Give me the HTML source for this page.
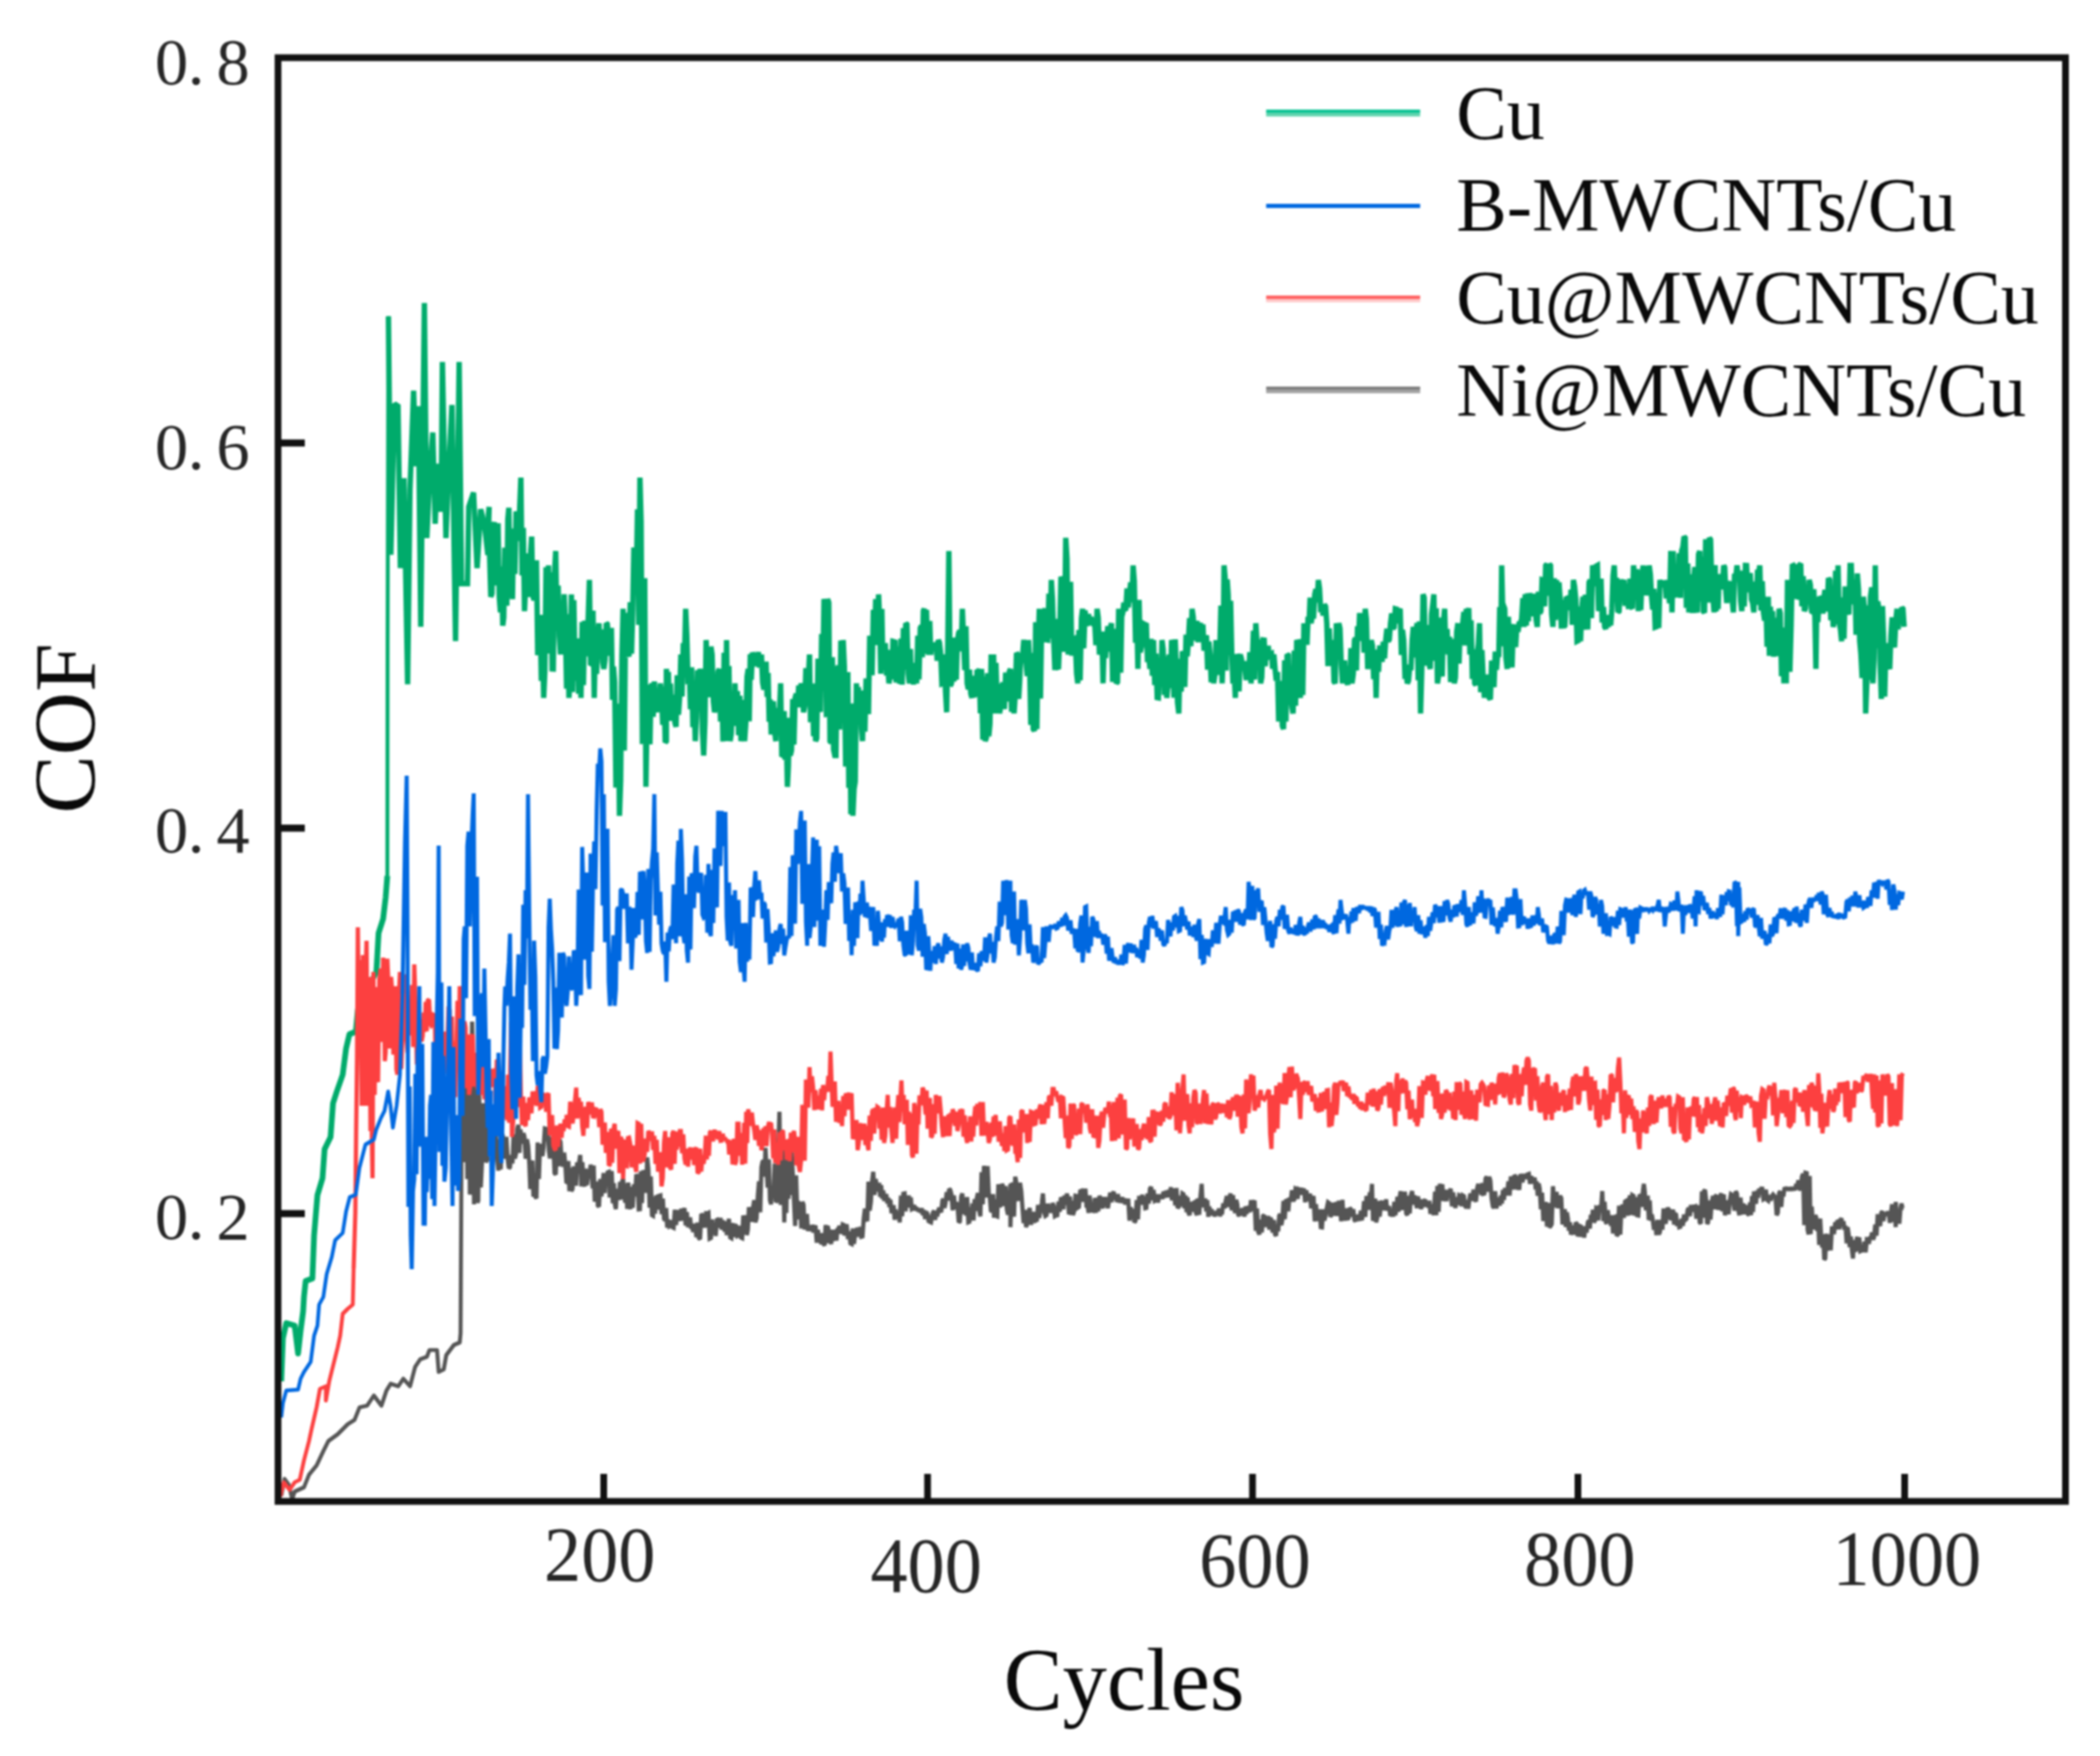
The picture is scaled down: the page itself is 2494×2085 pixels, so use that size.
<!DOCTYPE html>
<html lang="en">
<head>
<meta charset="utf-8">
<title>COF vs Cycles</title>
<style>
html, body { margin: 0; padding: 0; background: #ffffff; }
body { width: 2494px; height: 2085px; overflow: hidden; }
svg { display: block; filter: blur(0.9px); }
</style>
</head>
<body>
<svg width="2494" height="2085" viewBox="0 0 2494 2085">
<rect x="0" y="0" width="2494" height="2085" fill="#ffffff"/>
<defs><clipPath id="pc"><rect x="330" y="68" width="2123" height="1715"/></clipPath></defs>
<g clip-path="url(#pc)">
<polyline points="334.0,1640.0 336.0,1589.0 340.0,1571.0 350.0,1574.0 354.0,1607.0 357.0,1580.0 360.0,1557.0 361.0,1540.0 363.0,1521.0 371.0,1518.0 373.0,1467.0 377.0,1419.0 383.0,1399.0 385.5,1364.5 392.6,1350.0 395.5,1310.0 400.0,1296.0 407.0,1276.0 411.0,1245.0 415.0,1228.0 422.5,1225.0 425.0,1199.0 438.0,1171.0 447.0,1154.0 449.6,1108.0 455.0,1091.0 458.0,1065.6 460.0,1040.0" fill="none" stroke="#00ab6b" stroke-width="6.8" stroke-linejoin="round" stroke-miterlimit="2" stroke-linecap="butt"/>
<polyline points="460.0,1040.0 460.3,767.0 461.3,375.6" fill="none" stroke="#00ab6b" stroke-width="4.6" stroke-linejoin="miter" stroke-miterlimit="2" stroke-linecap="butt"/>
<polyline points="461.3,375.6 464.2,658.8 468.4,479.5 472.7,482.3 475.5,674.5 479.8,567.7 484.1,812.5 486.9,582.0 491.2,463.8 494.0,553.5 496.9,482.3 499.7,744.2 504.0,359.9 506.9,638.9 511.1,550.6 514.0,513.6 516.8,621.8 519.7,550.6 523.9,607.6 525.4,429.7 529.6,638.9 532.5,567.7 536.7,480.9 541.0,761.3 545.3,429.7 548.1,693.0 555.2,693.0 556.7,601.9 562.4,584.8 566.6,674.5 570.9,604.7 575.2,621.8 579.4,658.8 580.9,601.9 580.0,611.4 582.9,708.6 584.3,704.7 585.7,626.3 587.1,620.0 588.5,695.2 590.0,648.5 591.5,621.2 592.9,708.6 594.3,726.9 595.7,672.6 597.1,742.9 598.3,733.2 599.5,650.4 600.7,695.3 601.9,719.1 603.1,616.9 604.3,602.9 605.7,688.9 607.2,683.0 608.6,711.4 610.0,627.6 611.5,681.7 612.9,607.3 614.3,614.3 615.7,642.3 617.2,602.8 618.6,567.1 620.0,683.2 621.5,626.9 622.9,725.7 624.1,699.0 625.3,661.9 626.5,708.8 627.8,657.0 629.0,703.7 630.2,654.6 631.4,637.1 632.8,707.6 634.3,712.7 635.7,688.6 637.1,665.2 638.6,778.0 640.0,751.4 641.4,730.0 642.9,808.4 644.3,758.0 645.7,828.6 647.1,796.8 648.5,673.6 650.0,708.4 651.4,671.4 652.8,776.0 654.3,679.5 655.7,794.3 657.1,794.4 658.6,679.7 660.0,654.3 661.4,742.7 662.9,695.2 664.3,755.5 665.7,777.1 667.1,714.9 668.6,755.5 670.0,705.7 671.4,739.3 672.9,817.6 674.3,729.4 675.7,828.6 677.2,804.1 678.6,705.7 680.0,821.6 681.5,712.6 682.9,791.4 684.3,807.9 685.7,758.0 687.2,823.8 688.6,767.1 690.0,828.6 691.4,738.5 692.9,813.5 694.3,740.0 695.7,739.9 697.1,779.4 698.6,732.4 700.0,688.6 701.4,789.7 702.9,788.7 704.3,725.0 705.7,828.6 707.1,759.9 708.5,800.1 710.0,754.5 711.4,740.0 712.8,781.7 714.2,747.3 715.7,786.2 717.1,794.3 718.5,783.8 720.0,740.0 721.2,740.9 722.5,753.7 723.7,778.6 724.9,758.5 726.1,745.5 727.4,831.0 728.6,791.4 730.0,810.0 731.5,935.1 732.9,845.7 734.3,835.8 735.7,968.6 737.1,927.2 738.6,778.2 740.0,722.9 741.4,891.2 742.9,748.2 744.3,727.7 745.7,777.1 747.1,776.8 748.5,715.0 750.0,776.1 751.4,725.7 752.8,650.1 754.3,674.3 755.7,687.1 757.1,604.7 758.6,741.9 760.0,567.1 761.4,619.2 762.9,883.6 764.3,777.1 765.7,686.4 767.1,934.3 768.3,861.3 769.5,812.9 770.7,870.9 771.9,883.7 773.1,821.8 774.3,811.4 775.7,851.2 777.1,809.2 778.6,839.4 780.0,845.7 781.4,820.0 782.9,837.1 784.3,811.4 785.7,827.8 787.1,860.7 788.6,815.4 790.0,881.5 791.4,880.0 791.4,794.3 792.6,814.1 793.8,797.7 795.0,855.8 796.2,811.7 797.4,849.7 798.6,848.6 800.0,824.9 801.5,858.0 802.9,862.9 804.3,801.9 805.8,848.6 807.2,827.5 808.6,777.1 810.0,826.9 811.5,763.6 812.9,782.7 814.3,722.9 815.7,754.4 817.2,812.4 818.6,794.3 820.0,842.1 821.4,792.3 822.9,863.5 824.3,824.3 825.7,880.0 827.1,851.8 828.5,795.9 830.0,819.3 831.4,794.3 832.8,801.4 834.3,871.0 835.7,897.1 837.2,857.1 838.6,760.0 840.0,792.5 841.4,790.1 842.9,827.9 844.3,767.8 845.7,777.1 847.2,832.7 848.6,845.7 850.0,839.4 851.5,828.5 852.9,797.4 854.3,794.3 855.7,856.6 857.1,794.6 858.6,880.4 860.0,775.1 861.4,880.0 862.9,760.0 864.3,864.4 865.7,790.8 867.1,880.0 868.5,871.2 870.0,823.4 871.5,861.8 872.9,811.4 874.3,857.8 875.7,820.7 877.2,873.0 878.6,826.0 880.0,880.0 881.4,872.2 882.9,831.1 884.3,880.0 885.7,859.4 887.2,803.6 888.6,794.3 889.8,856.4 891.0,776.9 892.2,807.1 893.5,774.8 894.7,778.7 895.9,791.1 897.1,777.1 898.3,778.0 899.5,783.4 900.7,774.2 901.9,792.5 903.1,786.0 904.3,777.1 905.7,810.5 907.2,818.8 908.6,811.4 909.8,785.7 911.0,827.3 912.2,799.1 913.5,856.9 914.7,830.7 915.9,872.2 917.1,845.7 918.5,832.6 920.0,868.8 921.4,880.0 922.8,840.5 924.2,863.7 925.7,846.8 927.1,811.4 928.5,898.3 930.0,897.1 931.3,844.3 932.5,902.3 933.8,869.5 935.1,934.3 936.3,909.7 937.4,852.2 938.6,897.1 940.0,891.1 941.5,830.1 942.9,884.2 944.3,828.6 945.7,823.7 947.1,839.7 948.6,813.9 950.0,839.8 951.4,811.4 952.8,819.0 954.3,845.7 955.7,838.8 957.1,793.4 958.6,837.9 960.0,804.7 961.4,777.1 962.6,857.4 963.8,850.2 965.0,817.4 966.2,874.1 967.4,811.5 968.6,880.0 970.0,876.5 971.5,782.0 972.9,811.4 974.3,845.5 975.8,752.7 977.2,805.1 978.6,711.4 980.0,719.4 981.5,851.6 982.9,711.4 984.3,715.5 985.7,880.0 987.1,881.7 988.5,780.4 990.0,890.1 991.4,897.1 992.8,897.1 994.3,794.3 995.7,790.6 997.1,866.3 998.6,760.5 1000.0,840.2 1001.4,760.0 1002.8,791.3 1004.3,910.2 1005.7,862.9 1006.9,798.1 1008.1,935.4 1009.3,846.2 1010.5,966.6 1011.7,835.2 1012.9,968.6 1014.3,937.0 1015.7,928.2 1017.1,811.4 1018.3,845.8 1019.5,815.8 1020.7,857.0 1021.9,825.6 1023.1,865.3 1024.3,880.0 1025.7,819.8 1027.2,868.8 1028.6,805.5 1030.0,811.4 1031.4,848.0 1032.9,754.9 1034.3,777.1 1035.7,801.8 1037.2,724.0 1038.6,763.4 1040.0,711.4 1041.1,753.3 1042.3,765.6 1043.4,705.7 1044.7,735.0 1046.0,800.0 1047.3,723.1 1048.6,794.3 1050.0,793.4 1051.4,763.6 1052.9,802.2 1054.3,788.5 1055.7,811.4 1056.9,804.1 1058.1,771.7 1059.3,806.6 1060.5,761.5 1061.7,761.8 1062.9,760.0 1064.3,810.5 1065.8,767.9 1067.2,803.6 1068.6,811.4 1070.0,758.4 1071.4,813.0 1072.9,745.8 1074.3,795.1 1075.7,740.0 1077.1,741.4 1078.6,799.3 1080.0,811.4 1081.2,770.6 1082.5,810.6 1083.7,795.3 1084.9,812.8 1086.1,787.1 1087.4,804.4 1088.6,811.4 1090.0,754.9 1091.4,806.6 1092.9,745.8 1094.3,742.9 1095.4,780.4 1096.6,725.2 1097.7,722.9 1099.0,775.8 1100.3,724.0 1101.6,769.3 1102.9,777.1 1104.2,737.4 1105.4,777.5 1106.7,763.3 1108.0,772.8 1109.2,764.1 1110.5,772.1 1111.8,762.7 1113.0,784.7 1114.3,760.0 1115.7,762.8 1117.2,776.3 1118.6,811.9 1120.0,811.4 1121.4,777.2 1122.9,820.9 1124.3,845.7 1125.6,765.3 1126.9,654.3 1128.5,814.5 1130.0,811.4 1131.4,757.1 1132.8,809.4 1134.3,757.6 1135.7,807.2 1137.1,760.0 1138.5,751.6 1140.0,748.9 1141.5,773.2 1142.9,722.9 1144.3,756.9 1145.8,795.6 1147.2,743.5 1148.6,811.4 1150.0,818.4 1151.4,795.1 1152.9,823.5 1154.3,828.6 1155.5,802.9 1156.8,828.0 1158.0,802.3 1159.2,827.1 1160.4,795.3 1161.7,798.2 1162.9,794.3 1164.3,846.8 1165.7,794.4 1167.2,878.2 1168.6,803.2 1170.0,880.0 1171.4,876.1 1172.8,799.3 1174.3,874.3 1175.7,859.6 1177.1,777.1 1178.5,831.6 1180.0,777.1 1181.4,847.1 1182.8,787.0 1184.2,830.8 1185.7,816.0 1187.1,847.1 1188.5,838.6 1190.0,813.4 1191.4,811.4 1192.8,842.0 1194.3,798.5 1195.7,828.6 1197.1,829.4 1198.6,797.8 1200.0,794.3 1201.4,845.1 1202.9,805.9 1204.3,847.1 1205.7,826.1 1207.2,775.3 1208.6,777.1 1209.8,829.8 1211.0,809.2 1212.2,777.7 1213.5,782.1 1214.7,775.0 1215.9,759.8 1217.1,777.1 1218.5,787.8 1220.0,802.8 1221.4,760.0 1222.8,785.9 1224.2,860.6 1225.7,775.2 1227.1,865.7 1228.5,867.9 1230.0,738.8 1231.4,865.7 1232.8,769.7 1234.3,722.9 1235.7,829.5 1237.1,740.7 1238.6,747.3 1240.0,725.6 1241.4,722.9 1242.8,759.8 1244.3,760.0 1245.7,704.9 1247.2,758.2 1248.6,688.6 1250.0,712.1 1251.4,760.0 1252.8,795.5 1254.2,734.8 1255.7,792.5 1257.1,794.3 1258.5,757.3 1260.0,684.9 1261.4,688.6 1262.8,773.7 1264.3,754.8 1265.7,638.6 1267.2,663.2 1268.6,777.1 1270.0,768.0 1271.4,690.7 1272.9,778.5 1274.3,760.0 1275.7,759.0 1277.2,765.4 1278.6,799.8 1280.0,811.4 1281.4,748.1 1282.8,807.9 1284.3,734.2 1285.7,722.9 1287.1,769.9 1288.6,724.7 1290.0,740.0 1291.4,743.0 1292.8,729.1 1294.3,741.2 1295.7,732.7 1297.1,740.0 1298.5,741.1 1300.0,737.4 1301.5,766.1 1302.9,722.9 1304.3,733.4 1305.7,777.1 1307.1,772.2 1308.6,749.9 1310.0,811.4 1311.4,763.3 1312.9,781.3 1314.3,760.0 1315.7,743.5 1317.2,773.5 1318.6,746.0 1320.0,740.0 1321.4,809.8 1322.8,747.0 1324.3,754.2 1325.7,811.4 1327.2,809.7 1328.6,722.9 1329.8,750.4 1331.0,798.7 1332.2,732.1 1333.5,727.7 1334.7,715.5 1335.9,724.0 1337.1,722.9 1338.5,698.8 1340.0,721.1 1341.4,705.7 1342.8,691.5 1344.3,715.0 1345.7,671.4 1347.1,690.1 1348.6,763.1 1350.0,725.7 1351.4,794.3 1352.8,712.3 1354.2,774.5 1355.7,767.8 1357.1,760.0 1358.5,740.7 1360.0,741.5 1361.4,740.0 1362.8,786.2 1364.3,777.8 1365.7,794.3 1367.1,758.7 1368.6,802.4 1370.0,760.0 1371.4,813.5 1372.8,776.2 1374.3,828.3 1375.7,828.6 1377.1,780.7 1378.6,815.2 1380.0,760.0 1381.4,771.2 1382.8,825.1 1384.3,779.7 1385.7,828.6 1387.1,812.4 1388.6,777.2 1390.0,817.1 1391.4,760.0 1392.8,764.4 1394.2,828.5 1395.7,759.2 1397.1,794.3 1398.5,834.5 1400.0,847.1 1401.4,782.2 1402.8,821.1 1404.3,773.3 1405.7,777.1 1407.1,815.7 1408.6,753.6 1410.0,779.3 1411.4,760.0 1412.8,734.0 1414.3,767.5 1415.7,722.9 1417.1,732.6 1418.6,753.5 1420.0,760.0 1421.4,737.2 1422.8,762.6 1424.3,742.6 1425.7,740.0 1427.1,762.1 1428.6,741.3 1430.0,772.5 1431.4,760.0 1432.8,754.4 1434.2,795.1 1435.7,761.9 1437.1,777.1 1438.5,810.1 1440.0,780.7 1441.4,811.4 1442.8,801.2 1444.2,760.2 1445.7,801.4 1447.1,760.0 1448.5,776.5 1450.0,719.1 1451.4,811.4 1452.6,777.4 1453.7,671.4 1454.9,684.9 1456.2,796.2 1457.4,687.9 1458.6,705.7 1460.0,777.9 1461.5,713.3 1462.9,777.1 1464.3,811.6 1465.7,797.8 1467.1,828.6 1468.5,779.5 1470.0,779.3 1471.5,821.0 1472.9,777.1 1474.3,782.0 1475.8,793.2 1477.2,785.3 1478.6,794.3 1480.0,807.3 1481.4,794.8 1482.9,804.6 1484.3,774.4 1485.7,811.4 1487.1,791.9 1488.6,748.9 1490.0,806.9 1491.4,740.0 1492.8,760.6 1494.2,790.3 1495.7,759.4 1497.1,811.4 1498.5,804.3 1500.0,759.8 1501.4,760.0 1502.6,791.0 1503.8,768.4 1505.0,779.5 1506.2,766.7 1507.4,783.3 1508.6,777.1 1510.0,776.3 1511.4,794.0 1512.9,776.9 1514.3,794.3 1515.7,808.3 1517.2,797.9 1518.6,856.7 1520.0,811.4 1521.4,811.8 1522.9,861.7 1524.3,865.7 1525.7,784.0 1527.2,856.7 1528.6,777.1 1530.0,778.0 1531.4,837.1 1532.9,800.5 1534.3,839.4 1535.7,847.1 1537.1,772.5 1538.6,838.0 1540.0,760.0 1541.4,763.5 1542.9,816.6 1544.3,828.6 1545.7,758.9 1547.2,825.2 1548.6,740.0 1549.8,751.8 1551.0,743.2 1552.2,765.6 1553.5,732.5 1554.7,738.7 1555.9,709.6 1557.1,740.0 1558.5,731.1 1560.0,734.3 1561.4,705.7 1562.8,699.5 1564.3,715.3 1565.7,688.6 1567.1,698.7 1568.6,726.8 1570.0,722.9 1571.4,730.8 1572.8,717.8 1574.3,720.0 1575.7,740.0 1577.1,791.0 1578.6,746.2 1580.0,777.1 1581.4,790.0 1582.8,759.8 1584.3,809.2 1585.7,811.4 1587.1,740.1 1588.6,756.8 1590.0,740.0 1591.4,746.1 1592.9,788.8 1594.3,811.4 1595.6,795.0 1596.8,784.1 1598.1,807.9 1599.4,808.7 1600.6,813.1 1601.9,791.2 1603.2,808.7 1604.4,769.5 1605.7,811.4 1607.2,800.2 1608.6,760.0 1609.8,757.7 1611.0,796.2 1612.2,743.5 1613.5,760.9 1614.7,727.9 1615.9,747.3 1617.1,740.0 1618.5,728.8 1620.0,774.8 1621.4,722.9 1622.8,735.2 1624.3,794.3 1625.7,781.5 1627.2,784.1 1628.6,760.0 1630.0,767.2 1631.4,806.3 1632.9,771.4 1634.3,828.6 1635.7,777.6 1637.2,797.5 1638.6,766.4 1640.0,777.1 1641.4,785.9 1642.8,762.0 1644.3,781.8 1645.7,760.0 1647.1,746.6 1648.6,761.5 1650.0,759.3 1651.4,740.0 1652.8,728.3 1654.2,745.9 1655.7,744.7 1657.1,722.9 1658.5,723.3 1660.0,740.1 1661.5,725.4 1662.9,722.9 1664.3,777.7 1665.7,747.9 1667.1,760.0 1668.5,801.2 1670.0,800.3 1671.4,811.4 1672.8,808.1 1674.2,792.5 1675.7,792.6 1677.1,760.0 1678.5,744.4 1680.0,780.6 1681.5,751.6 1682.9,740.0 1684.3,807.7 1685.7,737.9 1687.1,847.1 1688.5,796.6 1690.0,705.7 1691.4,709.5 1692.9,790.2 1694.3,777.1 1695.7,742.2 1697.2,788.2 1698.6,794.3 1700.0,729.9 1701.5,717.8 1702.9,705.7 1704.3,784.7 1705.7,722.4 1707.1,811.4 1708.5,802.4 1710.0,733.2 1711.4,777.1 1712.8,803.3 1714.3,737.2 1715.7,722.9 1717.1,772.7 1718.6,746.8 1720.0,777.1 1721.4,756.1 1722.8,809.9 1724.3,778.0 1725.7,758.7 1727.1,811.4 1728.5,804.6 1730.0,749.9 1731.4,740.0 1732.8,788.0 1734.2,740.9 1735.7,748.6 1737.1,740.0 1738.5,726.6 1740.0,766.5 1741.4,722.9 1742.8,729.7 1744.3,722.1 1745.7,777.1 1747.1,736.6 1748.6,806.3 1750.0,771.2 1751.4,811.4 1752.8,813.3 1754.2,776.3 1755.7,764.9 1757.1,740.0 1758.5,822.0 1760.0,772.0 1761.5,806.1 1762.9,828.6 1764.3,801.5 1765.8,828.3 1767.2,801.0 1768.6,828.6 1770.0,830.3 1771.5,784.4 1772.9,794.3 1774.3,816.0 1775.8,773.7 1777.2,795.3 1778.6,777.1 1780.0,777.1 1781.1,720.9 1782.3,767.4 1783.4,671.4 1784.6,721.1 1785.9,719.8 1787.1,722.9 1788.5,781.3 1790.0,794.3 1791.4,732.3 1792.9,781.9 1794.3,777.1 1795.7,792.5 1797.2,744.1 1798.6,744.3 1800.0,768.4 1801.4,743.3 1802.9,750.2 1804.3,738.5 1805.7,740.0 1807.1,734.9 1808.6,710.1 1810.0,744.3 1811.4,705.7 1812.7,742.9 1814.0,704.7 1815.2,737.6 1816.5,704.4 1817.8,709.7 1819.1,705.2 1820.3,731.9 1821.6,705.9 1822.9,708.6 1824.3,735.9 1825.7,744.3 1827.1,702.5 1828.6,728.0 1830.0,725.7 1831.4,688.6 1832.8,689.1 1834.3,720.0 1835.7,671.4 1837.1,669.7 1838.6,707.3 1840.0,669.6 1841.4,671.4 1842.8,729.4 1844.3,744.3 1845.7,686.5 1847.2,736.1 1848.6,688.6 1850.0,722.8 1851.5,691.5 1852.9,711.4 1854.3,746.3 1855.7,712.5 1857.1,744.3 1858.5,742.9 1860.0,709.0 1861.5,710.4 1862.9,708.6 1864.3,724.4 1865.8,700.2 1867.2,741.9 1868.6,688.6 1870.0,696.1 1871.5,711.9 1872.9,761.4 1874.3,760.7 1875.7,720.4 1877.1,761.4 1878.5,723.6 1880.0,708.6 1881.4,747.7 1882.9,706.0 1884.3,744.3 1885.7,744.3 1887.2,691.6 1888.6,688.6 1890.0,734.0 1891.4,671.4 1892.8,676.2 1894.2,696.0 1895.7,672.2 1897.1,671.4 1898.5,722.7 1900.0,722.9 1901.4,687.2 1902.8,739.1 1904.3,720.8 1905.7,744.3 1907.1,746.6 1908.6,730.4 1910.0,744.3 1911.4,730.9 1912.9,742.4 1914.3,722.9 1915.7,683.6 1917.1,671.4 1918.5,708.1 1920.0,686.2 1921.5,726.8 1922.9,725.7 1924.3,688.0 1925.8,714.1 1927.2,692.2 1928.6,688.6 1930.0,719.4 1931.4,693.1 1932.9,714.8 1934.3,722.9 1935.7,687.1 1937.2,720.6 1938.6,722.5 1940.0,671.4 1941.4,685.8 1942.8,710.3 1944.3,675.9 1945.7,725.7 1947.1,680.3 1948.6,724.3 1950.0,689.0 1951.4,671.4 1952.6,706.8 1953.8,672.2 1955.0,687.9 1956.2,675.7 1957.4,707.2 1958.6,671.4 1960.0,682.1 1961.4,708.6 1962.8,723.7 1964.2,699.2 1965.7,744.8 1967.1,744.3 1968.5,703.3 1970.0,745.7 1971.4,688.6 1972.6,696.0 1973.9,692.9 1975.1,692.5 1976.3,697.0 1977.5,690.4 1978.8,710.6 1980.0,688.6 1981.4,698.6 1982.8,716.2 1984.3,654.2 1985.7,727.1 1987.1,654.3 1988.5,709.6 1990.0,676.1 1991.5,693.1 1992.9,708.6 1994.3,656.9 1995.7,710.0 1997.1,654.3 1998.5,649.7 2000.0,637.2 2001.4,638.6 2002.8,721.8 2004.3,669.0 2005.7,727.1 2007.1,718.5 2008.6,682.1 2010.0,728.0 2011.4,688.6 2012.8,673.3 2014.3,722.5 2015.7,727.1 2017.2,658.4 2018.6,654.3 2020.0,714.2 2021.5,661.2 2022.9,725.7 2024.3,727.4 2025.7,640.2 2027.1,671.4 2028.5,715.4 2030.0,638.6 2031.5,640.8 2032.9,688.6 2034.3,709.3 2035.7,727.1 2036.9,671.1 2038.1,725.9 2039.3,682.8 2040.5,723.1 2041.7,681.7 2042.9,688.6 2044.3,699.4 2045.7,693.3 2047.1,671.4 2048.3,673.7 2049.5,700.5 2050.7,716.1 2051.9,689.6 2053.1,713.7 2054.3,708.6 2055.7,690.1 2057.2,713.0 2058.6,727.1 2060.0,681.4 2061.5,684.9 2062.9,671.4 2064.3,685.4 2065.8,680.2 2067.2,713.8 2068.6,725.7 2070.0,677.5 2071.5,720.2 2072.9,671.4 2074.3,671.5 2075.7,703.1 2077.1,688.6 2078.6,680.5 2080.0,711.9 2081.4,715.6 2082.9,727.1 2084.3,690.7 2085.7,718.2 2087.2,679.8 2088.6,680.0 2090.0,671.4 2091.4,724.8 2092.9,690.0 2094.3,727.1 2095.7,736.9 2097.2,712.2 2098.6,767.8 2100.0,708.6 2101.4,778.6 2102.6,720.3 2103.9,777.6 2105.1,725.5 2106.3,779.8 2107.5,733.7 2108.8,773.7 2110.0,778.6 2111.4,769.2 2112.9,722.9 2114.3,728.1 2115.8,803.0 2117.2,745.0 2118.6,811.4 2120.0,787.1 2121.4,811.4 2122.9,688.6 2124.3,701.4 2125.7,797.7 2127.2,742.0 2128.6,672.1 2130.0,671.4 2131.4,673.7 2132.9,708.2 2134.3,708.6 2135.7,672.4 2137.2,670.8 2138.6,671.4 2140.0,720.0 2141.5,684.0 2142.9,725.7 2144.3,721.8 2145.8,700.3 2147.2,715.7 2148.6,688.6 2150.0,694.3 2151.5,726.0 2152.9,727.1 2154.1,699.7 2155.4,733.6 2156.6,794.3 2157.8,709.3 2159.0,738.7 2160.2,713.3 2161.4,708.6 2162.6,725.0 2163.8,707.2 2165.0,728.5 2166.2,709.4 2167.4,700.4 2168.6,725.7 2170.0,721.0 2171.5,686.5 2172.9,688.6 2174.3,736.5 2175.7,697.8 2177.1,744.3 2178.6,736.2 2180.0,677.7 2181.4,727.9 2182.9,671.4 2184.3,739.5 2185.7,746.8 2187.1,761.4 2188.6,709.4 2190.0,758.4 2191.4,696.4 2192.9,722.9 2194.3,727.1 2195.8,726.8 2197.2,671.4 2198.6,671.4 2200.0,716.9 2201.5,711.8 2202.9,688.6 2204.3,753.6 2205.8,680.9 2207.2,700.0 2208.6,761.4 2210.0,776.5 2211.5,805.2 2212.9,708.6 2214.3,722.9 2215.7,847.1 2217.1,811.4 2218.6,718.8 2220.0,807.4 2221.4,708.6 2222.9,697.3 2224.3,811.4 2225.7,782.9 2227.1,671.4 2228.5,769.7 2230.0,714.1 2231.4,722.9 2232.9,788.5 2234.3,830.0 2235.7,719.7 2237.1,761.4 2238.3,827.1 2239.5,778.2 2240.7,785.0 2241.9,763.7 2243.1,790.7 2244.3,794.3 2245.7,754.1 2247.2,733.1 2248.6,761.4 2250.0,768.6 2251.5,736.9 2252.9,722.9 2254.3,747.4 2255.7,723.3 2257.2,737.4 2258.6,721.4 2260.0,722.9 2261.4,744.3" fill="none" stroke="#00ab6b" stroke-width="6.4" stroke-linejoin="miter" stroke-miterlimit="2" stroke-linecap="butt"/>
<polyline points="334.0,1776.0 338.0,1756.0 343.0,1763.0 347.0,1780.0 350.0,1771.0 361.0,1766.0 367.0,1751.0 376.0,1740.0 384.0,1723.0 390.0,1711.0 401.0,1703.0 413.0,1691.0 421.0,1686.0 427.0,1671.0 436.0,1669.0 444.0,1657.0 453.0,1669.0 459.0,1651.0 464.0,1643.0 473.0,1646.0 479.0,1637.0 487.0,1646.0 493.0,1623.0 499.0,1614.0 507.0,1611.0 510.0,1603.0 519.0,1603.0 521.0,1629.0 527.0,1626.0 530.0,1609.0 539.0,1597.0 546.0,1594.0 547.0,1583.0 548.5,1290.0" fill="none" stroke="#555555" stroke-width="4.7" stroke-linejoin="round" stroke-miterlimit="2" stroke-linecap="butt"/>
<polyline points="548.5,1290.0 551.0,1380.0 552.0,1355.9 553.0,1290.0 554.0,1270.2 555.0,1400.0 556.0,1279.4 557.0,1260.0 558.0,1415.9 559.0,1416.0 560.7,1213.0 561.9,1270.1 563.0,1430.0 564.0,1385.8 565.0,1290.0 566.0,1285.9 567.0,1428.0 568.0,1425.6 569.0,1300.0 570.0,1329.2 571.0,1410.0 572.5,1379.0 574.0,1310.0 575.5,1331.3 577.0,1380.0 578.5,1377.5 580.0,1330.0 581.3,1329.7 582.7,1365.5 584.0,1360.0 585.3,1333.6 586.7,1370.9 588.0,1340.0 589.3,1354.3 590.7,1378.7 592.0,1390.0 593.3,1353.0 594.7,1388.3 596.0,1345.0 597.3,1349.2 598.7,1375.7 600.0,1358.6 601.4,1349.8 602.9,1376.0 604.3,1387.1 605.7,1385.8 607.1,1371.6 608.6,1381.4 610.0,1346.8 611.4,1375.7 612.8,1370.1 614.3,1340.6 615.7,1335.7 616.9,1368.8 618.1,1341.1 619.3,1352.0 620.5,1357.8 621.7,1345.3 622.9,1350.0 624.3,1375.8 625.8,1352.8 627.2,1360.4 628.6,1381.4 629.8,1412.0 631.0,1383.9 632.2,1378.0 633.5,1420.9 634.7,1397.0 635.9,1421.2 637.1,1422.9 638.5,1356.6 640.0,1399.9 641.4,1358.6 642.8,1363.0 644.2,1372.7 645.7,1361.1 647.1,1340.0 648.3,1340.3 649.5,1354.3 650.7,1343.0 651.9,1366.5 653.1,1375.4 654.3,1358.6 655.7,1350.5 657.2,1359.4 658.6,1392.9 660.0,1394.7 661.5,1359.4 662.9,1384.9 664.3,1352.9 665.7,1355.9 667.1,1379.9 668.6,1385.1 670.0,1368.6 671.4,1382.9 672.6,1403.2 673.8,1403.9 675.0,1378.6 676.2,1414.5 677.4,1386.5 678.6,1414.3 680.0,1411.5 681.5,1384.9 682.9,1392.9 684.1,1407.8 685.4,1380.1 686.6,1391.1 687.9,1379.4 689.1,1371.4 690.4,1408.6 691.7,1380.0 693.0,1405.6 694.3,1408.6 695.7,1387.6 697.1,1407.3 698.6,1390.5 700.0,1398.9 701.4,1382.9 702.6,1393.7 703.9,1411.0 705.1,1383.8 706.3,1426.8 707.5,1420.1 708.8,1402.9 710.0,1431.4 711.4,1432.7 712.9,1399.9 714.3,1420.4 715.7,1405.7 716.9,1392.8 718.1,1416.7 719.3,1394.1 720.5,1403.1 721.7,1391.9 722.9,1391.4 724.1,1422.0 725.3,1397.3 726.5,1390.5 727.8,1428.7 729.0,1404.8 730.2,1429.8 731.4,1435.7 732.6,1413.9 733.9,1413.4 735.1,1424.9 736.3,1403.5 737.5,1424.1 738.8,1402.9 740.0,1400.0 741.2,1417.9 742.5,1427.8 743.7,1405.3 744.9,1435.4 746.1,1404.2 747.4,1429.6 748.6,1435.7 750.0,1409.1 751.4,1434.1 752.9,1406.2 754.3,1420.6 755.7,1394.3 757.1,1397.8 758.6,1435.9 760.0,1435.7 761.2,1390.7 762.5,1428.4 763.7,1389.5 764.9,1415.9 766.1,1389.2 767.4,1416.3 768.6,1374.3 770.0,1388.1 771.5,1434.0 772.9,1396.8 774.3,1442.9 775.5,1443.6 776.8,1421.4 778.0,1441.2 779.2,1419.4 780.4,1436.3 781.7,1418.8 782.9,1420.0 784.3,1419.5 785.8,1441.5 787.2,1423.1 788.6,1447.1 789.9,1449.2 791.1,1434.3 792.4,1457.6 793.6,1448.2 794.9,1456.1 796.1,1455.3 797.4,1448.9 798.6,1457.1 800.0,1457.8 801.4,1436.4 802.9,1454.5 804.3,1441.2 805.7,1437.1 806.9,1449.4 808.1,1444.6 809.3,1435.1 810.5,1449.1 811.7,1439.9 812.9,1434.3 814.3,1455.0 815.7,1439.2 817.1,1457.1 818.3,1452.9 819.6,1445.5 820.8,1459.0 822.0,1454.6 823.2,1462.9 824.5,1453.4 825.7,1455.7 827.1,1468.9 828.6,1451.6 830.0,1470.0 831.4,1471.4 832.9,1441.3 834.3,1442.9 835.7,1447.8 837.1,1457.6 838.6,1440.5 840.0,1440.7 841.4,1440.0 842.8,1470.8 844.3,1470.0 845.7,1447.9 847.1,1464.9 848.6,1454.0 850.0,1467.6 851.4,1447.1 852.8,1448.1 854.2,1457.7 855.7,1446.1 857.1,1460.0 858.3,1448.8 859.6,1457.5 860.8,1462.1 862.0,1450.3 863.2,1466.5 864.5,1453.7 865.7,1447.1 867.2,1469.2 868.6,1470.0 870.0,1452.1 871.5,1468.7 872.9,1454.5 874.3,1455.7 875.7,1467.4 877.1,1466.6 878.6,1455.4 880.0,1469.3 881.4,1470.0 882.8,1443.1 884.3,1464.6 885.7,1442.9 886.9,1466.4 888.2,1460.0 889.4,1433.3 890.6,1444.7 891.8,1435.8 893.1,1450.9 894.3,1434.3 895.7,1425.0 897.1,1451.4 898.5,1446.7 900.0,1420.0 901.4,1402.6 902.9,1439.5 904.3,1385.7 905.5,1379.7 906.7,1378.0 907.9,1397.1 909.1,1362.9 910.4,1388.0 911.7,1410.2 913.1,1376.6 914.4,1424.9 915.7,1430.0 917.1,1408.6 918.5,1421.4 920.0,1381.7 921.4,1427.1 922.8,1425.9 924.3,1362.6 925.7,1320.0 927.2,1430.6 928.6,1367.1 930.0,1357.7 931.4,1451.4 932.6,1383.9 933.9,1440.2 935.1,1373.3 936.3,1423.3 937.5,1388.5 938.8,1419.0 940.0,1365.7 941.4,1390.9 942.9,1425.0 944.3,1455.7 945.5,1395.5 946.8,1438.7 948.0,1425.9 949.2,1447.7 950.4,1435.5 951.7,1458.6 952.9,1427.1 954.3,1430.4 955.7,1460.0 957.0,1450.2 958.3,1441.4 959.6,1461.5 960.9,1457.1 962.2,1461.3 963.4,1455.2 964.7,1457.2 966.0,1463.1 967.3,1456.8 968.6,1457.1 970.0,1475.6 971.4,1460.3 972.9,1475.0 974.3,1473.6 975.7,1477.1 976.9,1464.2 978.1,1477.0 979.3,1478.8 980.5,1454.5 981.7,1476.1 982.9,1455.7 984.3,1461.5 985.7,1471.3 987.1,1477.1 988.4,1460.1 989.6,1473.4 990.9,1463.2 992.1,1462.4 993.4,1472.9 994.6,1459.9 995.9,1458.6 997.1,1455.7 998.3,1464.5 999.6,1462.4 1000.8,1453.9 1002.0,1454.4 1003.2,1467.1 1004.5,1455.6 1005.7,1455.7 1007.1,1471.4 1008.5,1462.3 1010.0,1476.4 1011.4,1477.1 1012.8,1458.7 1014.2,1476.9 1015.7,1464.0 1017.1,1460.0 1018.5,1458.8 1020.0,1468.4 1021.5,1456.7 1022.9,1468.6 1024.3,1468.2 1025.8,1446.7 1027.2,1435.1 1028.6,1447.1 1030.0,1449.9 1031.4,1403.1 1032.9,1437.5 1034.3,1427.1 1035.7,1402.5 1037.1,1391.4 1038.5,1418.8 1040.0,1400.0 1041.5,1408.9 1042.9,1414.3 1044.1,1404.4 1045.3,1421.1 1046.5,1407.2 1047.8,1423.3 1049.0,1413.5 1050.2,1426.0 1051.4,1420.0 1052.6,1418.1 1053.9,1429.0 1055.1,1422.4 1056.3,1433.2 1057.5,1424.5 1058.8,1440.5 1060.0,1435.7 1061.2,1431.0 1062.5,1448.3 1063.7,1436.0 1064.9,1446.7 1066.1,1439.7 1067.4,1444.8 1068.6,1451.4 1070.0,1419.7 1071.4,1444.0 1072.9,1417.4 1074.3,1417.1 1075.5,1438.2 1076.8,1421.7 1078.0,1431.7 1079.2,1419.5 1080.4,1433.7 1081.7,1421.6 1082.9,1435.7 1084.2,1435.0 1085.5,1430.7 1086.8,1437.0 1088.2,1434.7 1089.5,1435.5 1090.8,1438.2 1092.1,1435.8 1093.4,1439.6 1094.7,1434.7 1096.1,1442.8 1097.4,1436.8 1098.7,1447.4 1100.0,1438.6 1101.4,1441.2 1102.8,1449.9 1104.3,1450.8 1105.7,1451.4 1106.9,1443.4 1108.2,1439.5 1109.4,1437.8 1110.6,1448.5 1111.8,1438.9 1113.1,1444.4 1114.3,1437.1 1115.5,1434.2 1116.8,1437.9 1118.0,1437.6 1119.2,1425.4 1120.4,1423.8 1121.7,1434.2 1122.9,1428.6 1124.3,1415.5 1125.8,1425.5 1127.2,1411.7 1128.6,1412.9 1130.0,1418.5 1131.4,1437.1 1132.9,1419.4 1134.3,1435.7 1135.7,1427.5 1137.2,1432.4 1138.6,1451.4 1140.0,1450.2 1141.5,1420.8 1142.9,1417.1 1144.3,1441.6 1145.7,1422.3 1147.2,1443.3 1148.6,1421.3 1150.0,1451.4 1151.2,1450.9 1152.5,1433.5 1153.8,1445.2 1155.0,1428.9 1156.2,1449.1 1157.5,1423.8 1158.8,1437.8 1160.0,1422.9 1161.4,1416.6 1162.9,1436.9 1164.3,1444.3 1165.7,1391.9 1167.2,1429.9 1168.6,1384.3 1170.0,1396.9 1171.4,1421.8 1172.9,1384.7 1174.3,1417.1 1175.5,1421.8 1176.8,1437.4 1178.0,1438.5 1179.3,1417.8 1180.5,1445.9 1181.8,1424.2 1183.0,1443.8 1184.3,1444.3 1185.7,1406.1 1187.2,1432.6 1188.6,1430.8 1190.0,1405.7 1191.4,1408.8 1192.8,1432.2 1194.3,1408.4 1195.7,1435.7 1197.1,1442.3 1198.6,1436.6 1200.0,1405.7 1200.0,1457.1 1201.5,1406.6 1202.9,1405.7 1204.3,1444.7 1205.7,1397.1 1207.1,1404.4 1208.6,1422.0 1210.0,1425.7 1211.4,1404.3 1212.9,1414.6 1214.3,1434.3 1215.7,1452.2 1217.2,1436.6 1218.6,1457.1 1220.0,1452.6 1221.5,1440.4 1222.9,1434.3 1224.3,1454.0 1225.7,1449.2 1227.1,1442.9 1228.5,1439.5 1230.0,1449.3 1231.4,1448.6 1232.8,1430.8 1234.3,1446.1 1235.7,1434.3 1237.2,1429.1 1238.6,1417.1 1240.0,1438.8 1241.5,1443.8 1242.9,1442.9 1244.3,1429.2 1245.7,1439.8 1247.2,1432.1 1248.6,1440.0 1250.0,1428.6 1251.4,1431.8 1252.8,1444.1 1254.3,1443.2 1255.7,1442.9 1257.1,1426.6 1258.6,1438.8 1260.0,1421.7 1261.4,1425.7 1262.8,1435.9 1264.2,1419.4 1265.7,1430.4 1267.1,1417.1 1268.3,1423.7 1269.5,1441.8 1270.7,1420.6 1271.9,1442.7 1273.1,1425.9 1274.3,1442.9 1275.7,1438.0 1277.2,1419.7 1278.6,1420.0 1280.0,1433.9 1281.4,1433.0 1282.9,1414.5 1284.3,1413.9 1285.7,1420.0 1286.8,1426.9 1288.0,1419.3 1289.1,1411.4 1290.4,1433.6 1291.6,1431.8 1292.9,1440.0 1294.1,1419.4 1295.3,1436.3 1296.5,1428.6 1297.8,1439.3 1299.0,1437.8 1300.2,1422.5 1301.4,1440.0 1302.8,1422.3 1304.3,1438.2 1305.7,1420.0 1307.1,1422.9 1308.6,1432.2 1310.0,1434.3 1311.4,1421.2 1312.8,1432.0 1314.3,1421.4 1315.7,1434.7 1317.1,1425.7 1318.5,1416.2 1320.0,1427.5 1321.4,1417.1 1322.7,1415.1 1323.9,1424.3 1325.2,1418.4 1326.4,1427.1 1327.7,1417.8 1328.9,1427.7 1330.2,1425.1 1331.4,1425.7 1332.6,1421.5 1333.9,1426.9 1335.1,1423.0 1336.3,1430.1 1337.5,1424.6 1338.8,1425.8 1340.0,1425.7 1341.4,1449.3 1342.8,1433.3 1344.3,1444.7 1345.7,1435.5 1347.1,1451.4 1348.5,1449.7 1350.0,1425.0 1351.5,1447.9 1352.9,1420.0 1354.1,1425.2 1355.3,1430.0 1356.5,1418.4 1357.8,1430.6 1359.0,1420.4 1360.2,1434.6 1361.4,1434.3 1362.8,1417.3 1364.3,1429.1 1365.7,1411.4 1367.1,1409.3 1368.6,1425.1 1370.0,1412.7 1371.4,1425.7 1372.7,1424.9 1374.0,1418.2 1375.3,1427.8 1376.6,1420.1 1377.9,1423.5 1379.2,1418.4 1380.5,1423.7 1381.8,1414.8 1383.1,1422.1 1384.4,1414.1 1385.7,1417.1 1386.9,1421.3 1388.2,1412.8 1389.4,1418.1 1390.6,1409.6 1391.8,1425.2 1393.1,1416.7 1394.3,1411.4 1395.7,1431.2 1397.2,1410.6 1398.6,1434.3 1400.0,1432.8 1401.4,1419.7 1402.9,1432.4 1404.3,1417.1 1405.5,1417.9 1406.8,1434.9 1408.0,1419.4 1409.2,1439.3 1410.4,1421.6 1411.7,1440.7 1412.9,1442.9 1414.3,1426.9 1415.7,1438.7 1417.1,1428.6 1418.5,1427.7 1420.0,1438.8 1421.4,1442.9 1422.8,1422.9 1424.2,1442.4 1425.7,1420.2 1427.1,1405.7 1428.5,1433.3 1430.0,1428.6 1431.2,1422.9 1432.5,1438.4 1433.8,1424.9 1435.0,1444.8 1436.2,1432.6 1437.5,1442.2 1438.8,1435.6 1440.0,1442.9 1441.3,1438.1 1442.5,1444.2 1443.8,1440.2 1445.1,1439.7 1446.3,1442.5 1447.6,1434.9 1448.9,1444.1 1450.1,1440.2 1451.4,1440.0 1452.8,1428.8 1454.3,1434.6 1455.7,1425.7 1457.1,1420.0 1458.6,1433.3 1460.0,1422.0 1461.4,1417.1 1462.8,1437.2 1464.3,1419.1 1465.7,1434.3 1466.9,1440.3 1468.2,1424.6 1469.4,1429.7 1470.6,1442.3 1471.8,1443.5 1473.1,1435.5 1474.3,1442.9 1475.5,1436.7 1476.8,1436.9 1478.0,1444.6 1479.2,1432.6 1480.4,1441.4 1481.7,1432.3 1482.9,1434.3 1484.3,1439.2 1485.7,1425.1 1487.2,1437.8 1488.6,1427.8 1490.0,1425.7 1491.4,1461.3 1492.8,1434.8 1494.3,1462.6 1495.7,1465.7 1497.1,1448.3 1498.6,1463.2 1500.0,1443.9 1501.4,1442.9 1502.6,1457.1 1503.9,1444.9 1505.1,1448.3 1506.3,1443.9 1507.5,1460.1 1508.8,1445.9 1510.0,1448.6 1511.4,1463.5 1512.9,1448.6 1514.3,1465.7 1515.5,1467.2 1516.8,1453.9 1518.0,1462.2 1519.2,1443.4 1520.4,1441.7 1521.7,1454.8 1522.9,1448.6 1524.3,1425.9 1525.8,1447.7 1527.2,1424.4 1528.6,1425.7 1530.0,1438.3 1531.4,1421.9 1532.9,1426.9 1534.3,1413.3 1535.7,1425.7 1537.2,1424.1 1538.6,1411.4 1539.8,1412.1 1541.1,1423.5 1542.3,1412.2 1543.6,1413.0 1544.8,1410.7 1546.1,1418.4 1547.3,1413.5 1548.6,1411.4 1550.0,1427.5 1551.4,1413.4 1552.9,1421.7 1554.3,1425.7 1555.7,1417.3 1557.2,1434.8 1558.6,1424.0 1560.0,1420.0 1561.4,1450.2 1562.9,1429.7 1564.3,1448.6 1565.7,1447.3 1567.2,1435.8 1568.6,1457.1 1570.0,1457.3 1571.4,1435.9 1572.9,1449.3 1574.3,1442.9 1575.7,1434.4 1577.2,1427.6 1578.6,1428.6 1580.0,1444.7 1581.4,1442.2 1582.9,1427.9 1584.3,1442.9 1585.7,1440.2 1587.2,1427.2 1588.6,1443.9 1590.0,1425.7 1591.4,1432.7 1592.8,1450.0 1594.3,1424.7 1595.7,1448.6 1596.9,1438.3 1598.1,1449.4 1599.3,1434.6 1600.5,1448.2 1601.7,1445.8 1602.9,1434.3 1604.3,1435.7 1605.8,1444.6 1607.2,1435.7 1608.6,1448.6 1609.8,1450.2 1611.1,1442.3 1612.3,1449.8 1613.6,1442.1 1614.8,1449.5 1616.1,1437.4 1617.3,1448.6 1618.6,1442.9 1620.0,1426.3 1621.4,1444.9 1622.9,1420.1 1624.3,1425.7 1625.6,1436.4 1626.8,1415.7 1628.1,1421.6 1629.4,1405.7 1630.6,1449.5 1631.8,1445.8 1633.1,1423.1 1634.3,1451.4 1635.7,1445.8 1637.1,1425.8 1638.6,1444.5 1640.0,1430.7 1641.4,1425.7 1642.6,1436.8 1643.8,1426.2 1645.0,1437.2 1646.2,1424.1 1647.4,1437.3 1648.6,1434.3 1649.8,1432.3 1651.0,1443.6 1652.2,1442.2 1653.5,1435.6 1654.7,1444.6 1655.9,1426.8 1657.1,1442.9 1658.4,1436.0 1659.6,1421.0 1660.9,1438.7 1662.1,1423.1 1663.4,1414.3 1664.6,1436.7 1665.9,1421.9 1667.1,1428.6 1668.5,1415.0 1670.0,1440.7 1671.4,1442.9 1672.8,1420.0 1674.2,1440.8 1675.7,1418.8 1677.1,1414.3 1678.5,1430.2 1680.0,1419.3 1681.5,1428.6 1682.9,1434.3 1684.1,1420.4 1685.3,1434.1 1686.5,1424.1 1687.8,1435.7 1689.0,1426.6 1690.2,1433.0 1691.4,1425.7 1692.6,1424.4 1693.9,1432.5 1695.1,1427.5 1696.3,1433.9 1697.5,1425.6 1698.8,1441.3 1700.0,1434.3 1701.4,1430.1 1702.8,1442.9 1704.3,1414.8 1705.7,1442.9 1707.1,1408.2 1708.6,1439.0 1710.0,1405.7 1711.4,1414.4 1712.9,1406.3 1714.3,1425.7 1715.5,1423.2 1716.8,1412.6 1718.0,1426.1 1719.2,1415.4 1720.4,1421.9 1721.7,1414.1 1722.9,1411.4 1724.3,1432.4 1725.8,1415.8 1727.2,1428.3 1728.6,1434.3 1730.0,1421.5 1731.4,1430.7 1732.9,1419.2 1734.3,1420.0 1735.7,1432.1 1737.1,1419.4 1738.6,1420.3 1740.0,1432.0 1741.4,1434.3 1742.6,1425.1 1743.8,1435.3 1745.0,1424.6 1746.2,1417.3 1747.4,1419.3 1748.6,1425.7 1750.0,1412.6 1751.4,1423.7 1752.9,1426.7 1754.3,1410.7 1755.7,1405.7 1756.9,1416.1 1758.1,1406.6 1759.3,1419.0 1760.5,1404.7 1761.7,1417.5 1762.9,1417.1 1764.3,1399.4 1765.8,1397.1 1767.2,1415.0 1768.6,1397.1 1770.0,1402.0 1771.4,1422.5 1772.9,1432.2 1774.3,1434.3 1775.7,1414.5 1777.2,1434.9 1778.6,1422.5 1780.0,1425.7 1781.2,1431.5 1782.5,1419.6 1783.7,1429.1 1784.9,1413.0 1786.1,1424.7 1787.4,1410.4 1788.6,1417.1 1790.0,1417.2 1791.4,1402.8 1792.9,1419.5 1794.3,1396.8 1795.7,1402.9 1797.1,1412.4 1798.6,1395.2 1800.0,1397.1 1800.0,1411.4 1801.4,1409.7 1802.8,1396.5 1804.3,1412.9 1805.7,1394.3 1806.9,1396.8 1808.2,1403.9 1809.4,1394.2 1810.6,1397.5 1811.8,1394.5 1813.1,1400.0 1814.3,1394.3 1815.7,1393.8 1817.1,1405.6 1818.6,1396.5 1820.0,1404.1 1821.4,1402.9 1822.6,1398.2 1823.8,1412.4 1825.0,1402.7 1826.2,1419.8 1827.4,1405.3 1828.6,1411.4 1830.0,1435.9 1831.4,1416.0 1832.9,1449.9 1834.3,1434.3 1835.7,1427.2 1837.2,1456.4 1838.6,1428.4 1840.0,1457.1 1841.4,1456.0 1842.9,1453.4 1844.3,1408.6 1845.7,1423.5 1847.1,1433.4 1848.6,1415.3 1850.0,1434.5 1851.4,1425.7 1852.8,1419.8 1854.2,1422.6 1855.7,1453.9 1857.1,1442.9 1858.3,1435.6 1859.6,1456.9 1860.8,1439.5 1862.0,1446.4 1863.2,1461.3 1864.5,1451.1 1865.7,1465.7 1867.1,1463.0 1868.6,1455.0 1870.0,1466.0 1871.4,1451.4 1872.6,1453.0 1873.8,1468.0 1875.0,1453.1 1876.2,1468.5 1877.4,1454.4 1878.6,1468.6 1880.0,1456.9 1881.4,1469.5 1882.9,1455.9 1884.3,1463.5 1885.7,1451.4 1886.9,1449.2 1888.1,1458.8 1889.3,1442.5 1890.5,1448.4 1891.7,1436.4 1892.9,1451.4 1894.3,1449.0 1895.7,1434.3 1896.9,1435.0 1898.1,1449.1 1899.3,1431.0 1900.5,1439.1 1901.7,1430.6 1902.9,1414.3 1904.3,1449.8 1905.7,1426.8 1907.1,1451.4 1908.3,1452.6 1909.5,1436.9 1910.7,1449.9 1911.9,1443.3 1913.1,1455.6 1914.3,1442.9 1915.7,1464.5 1917.1,1445.6 1918.6,1444.7 1920.0,1467.3 1921.4,1465.7 1922.8,1431.6 1924.3,1465.9 1925.7,1434.3 1927.1,1430.5 1928.6,1446.1 1930.0,1426.6 1931.4,1425.7 1932.8,1439.5 1934.3,1442.9 1935.7,1419.1 1937.2,1442.7 1938.6,1419.1 1940.0,1420.0 1941.4,1443.3 1942.9,1421.3 1944.3,1442.9 1945.7,1443.2 1947.2,1418.3 1948.6,1420.0 1949.8,1432.9 1951.1,1414.7 1952.3,1405.7 1953.4,1415.1 1954.6,1436.8 1955.7,1434.3 1956.9,1419.5 1958.1,1448.7 1959.3,1425.4 1960.5,1449.3 1961.7,1441.9 1962.9,1448.6 1964.3,1460.3 1965.7,1450.7 1967.2,1466.5 1968.6,1448.5 1970.0,1465.7 1971.4,1462.9 1972.8,1448.6 1974.3,1460.0 1975.7,1434.9 1977.1,1448.6 1978.3,1453.1 1979.4,1437.7 1980.6,1434.3 1981.9,1436.2 1983.2,1444.7 1984.4,1448.5 1985.7,1442.9 1986.9,1436.1 1988.2,1454.1 1989.4,1441.5 1990.6,1442.2 1991.8,1455.8 1993.1,1449.0 1994.3,1457.1 1995.7,1456.6 1997.1,1447.0 1998.6,1455.6 2000.0,1441.9 2001.4,1448.6 2002.8,1447.4 2004.3,1436.4 2005.7,1434.3 2007.0,1444.1 2008.2,1430.8 2009.5,1438.8 2010.8,1431.0 2012.0,1433.9 2013.3,1433.0 2014.6,1447.1 2015.8,1434.9 2017.1,1431.4 2018.6,1451.4 2019.9,1453.0 2021.2,1414.7 2022.4,1445.8 2023.7,1414.3 2024.9,1412.7 2026.2,1424.0 2027.4,1453.1 2028.6,1451.4 2030.0,1425.3 2031.4,1448.1 2032.9,1427.8 2034.3,1420.0 2035.7,1435.8 2037.2,1420.5 2038.6,1419.2 2040.0,1434.3 2041.4,1434.5 2042.9,1420.2 2044.3,1417.1 2045.7,1438.4 2047.2,1418.1 2048.6,1442.9 2050.0,1437.5 2051.4,1425.1 2052.9,1441.7 2054.3,1425.7 2055.7,1417.8 2057.1,1418.7 2058.6,1427.1 2060.0,1437.4 2061.4,1414.3 2062.8,1417.2 2064.3,1435.9 2065.7,1442.9 2067.1,1421.9 2068.6,1442.0 2070.0,1430.3 2071.4,1431.4 2072.8,1441.6 2074.2,1431.1 2075.7,1441.3 2077.1,1442.9 2078.3,1427.7 2079.5,1442.8 2080.7,1420.2 2081.9,1439.1 2083.1,1414.7 2084.3,1420.0 2085.5,1429.4 2086.8,1413.7 2088.0,1422.3 2089.2,1411.2 2090.4,1417.5 2091.7,1411.3 2092.9,1411.4 2094.3,1424.0 2095.7,1423.1 2097.2,1412.5 2098.6,1424.6 2100.0,1425.7 2101.4,1418.9 2102.8,1425.6 2104.3,1420.4 2105.7,1418.4 2107.1,1420.0 2108.6,1421.3 2110.0,1442.9 2111.4,1439.8 2112.9,1416.5 2114.3,1414.3 2115.5,1433.0 2116.8,1416.2 2118.0,1420.6 2119.2,1411.6 2120.4,1411.2 2121.7,1411.1 2122.9,1411.4 2124.2,1413.1 2125.5,1409.8 2126.8,1413.8 2128.1,1409.4 2129.4,1413.4 2130.6,1410.4 2131.9,1413.1 2133.2,1405.6 2134.5,1408.9 2135.8,1401.3 2137.1,1411.4 2138.6,1412.7 2140.0,1397.1 2141.4,1393.7 2142.8,1454.6 2144.3,1392.5 2145.7,1392.9 2146.8,1460.3 2148.0,1465.7 2149.2,1396.3 2150.4,1465.4 2151.7,1432.6 2152.9,1451.4 2154.3,1459.5 2155.7,1442.9 2156.9,1445.3 2158.1,1461.5 2159.3,1446.8 2160.5,1478.1 2161.7,1447.0 2162.9,1468.6 2164.1,1481.3 2165.3,1465.6 2166.5,1495.6 2167.7,1494.3 2168.9,1464.8 2170.2,1485.0 2171.4,1468.6 2172.8,1466.6 2174.2,1484.6 2175.7,1456.2 2177.1,1462.9 2178.3,1463.0 2179.6,1451.4 2180.8,1459.8 2182.0,1449.3 2183.2,1450.2 2184.5,1459.6 2185.7,1448.6 2186.9,1446.6 2188.2,1456.4 2189.4,1450.1 2190.6,1460.2 2191.8,1455.4 2193.1,1476.4 2194.3,1457.1 2195.6,1466.4 2196.8,1480.9 2198.1,1468.1 2199.3,1483.5 2200.6,1494.3 2201.9,1472.3 2203.1,1486.4 2204.4,1474.9 2205.7,1468.6 2206.9,1485.6 2208.1,1469.3 2209.3,1485.6 2210.5,1485.1 2211.7,1484.7 2212.9,1485.7 2214.3,1474.3 2215.7,1487.1 2217.1,1471.4 2218.3,1471.7 2219.6,1476.8 2220.8,1468.3 2222.0,1470.6 2223.2,1463.5 2224.5,1471.9 2225.7,1468.6 2227.1,1453.9 2228.6,1467.1 2230.0,1441.6 2231.4,1451.4 2232.9,1455.7 2234.3,1440.0 2235.6,1438.2 2236.8,1449.8 2238.1,1440.5 2239.4,1441.8 2240.6,1442.1 2241.9,1438.7 2243.2,1440.8 2244.4,1451.9 2245.7,1440.0 2247.1,1429.9 2248.6,1450.7 2250.0,1436.3 2251.4,1457.1 2251.4,1427.1 2252.8,1450.9 2254.2,1436.2 2255.7,1453.1 2257.1,1434.3 2258.3,1429.1 2259.4,1434.4 2260.6,1434.3" fill="none" stroke="#555555" stroke-width="5.0" stroke-linejoin="miter" stroke-miterlimit="2" stroke-linecap="butt"/>
<polyline points="333.0,1777.0 337.0,1760.0 344.0,1769.0 350.0,1760.0 356.0,1757.0 361.0,1734.0 367.0,1711.0 370.0,1697.0 376.0,1671.0 380.0,1649.0 387.0,1646.0 387.0,1663.0 391.0,1640.0 396.0,1620.0 401.0,1600.0 404.0,1586.0 407.0,1560.0 413.0,1554.0 419.0,1549.0 420.0,1506.0" fill="none" stroke="#fc4040" stroke-width="4.6" stroke-linejoin="round" stroke-miterlimit="2" stroke-linecap="butt"/>
<polyline points="420.0,1506.0 422.0,1440.0 423.0,1340.0 424.0,1260.0 425.0,1101.0 426.5,1250.0 428.0,1140.0 429.6,1313.0 431.0,1134.0 432.0,1280.8 433.0,1313.0 434.1,1159.6 435.3,1117.0 437.0,1313.0 438.0,1279.3 439.0,1160.0 440.0,1343.1 441.0,1310.0 442.4,1399.0 443.5,1154.0 445.0,1300.0 446.0,1172.0 447.0,1180.0 448.0,1271.2 449.0,1285.0 450.5,1162.6 452.0,1150.0 453.5,1237.3 455.0,1137.0 456.0,1174.5 457.0,1260.0 458.0,1249.5 459.0,1170.0 460.0,1138.3 461.0,1160.0 462.0,1245.0 463.0,1222.0 464.5,1159.9 466.0,1180.0 467.2,1252.1 468.3,1199.9 469.5,1171.0 470.8,1270.1 472.0,1276.0 473.5,1187.5 475.0,1154.0 476.5,1269.1 478.0,1230.0 479.5,1157.0 481.0,1180.0 482.5,1231.3 484.0,1250.0 485.3,1187.9 486.7,1229.5 488.0,1200.0 489.3,1169.6 490.7,1243.3 492.0,1145.0 493.5,1190.8 495.0,1260.0 496.5,1259.1 498.0,1210.0 499.3,1225.9 500.7,1236.4 502.0,1230.0 503.2,1202.4 504.4,1225.2 505.6,1189.6 506.8,1224.4 508.0,1188.0 509.5,1186.8 511.0,1215.0 512.3,1217.6 513.7,1215.7 515.0,1205.0 516.3,1205.6 517.7,1271.5 519.0,1215.0 520.5,1206.9 522.0,1290.0 523.3,1258.0 524.7,1233.3 526.0,1230.0 527.3,1274.8 528.7,1224.7 530.0,1260.0 531.3,1241.6 532.7,1199.2 534.0,1200.0 535.3,1281.4 536.7,1207.1 538.0,1330.0 539.3,1236.7 540.7,1302.7 542.0,1250.0 543.3,1188.4 544.7,1261.2 546.0,1171.0 547.5,1194.4 549.0,1280.0 550.3,1267.5 551.7,1212.8 553.0,1220.0 554.3,1292.2 555.7,1228.4 557.0,1300.0 558.5,1289.0 560.0,1230.0 561.5,1228.9 563.0,1290.0 564.5,1285.7 566.0,1250.0 567.3,1294.0 568.7,1249.9 570.0,1300.0 571.3,1292.1 572.7,1255.1 574.0,1250.0 575.3,1305.1 576.7,1291.2 578.0,1310.0 579.3,1273.8 580.7,1303.2 582.0,1270.0 583.3,1272.0 584.7,1287.3 586.0,1290.0 587.3,1268.6 588.7,1316.6 590.0,1260.0 591.3,1259.3 592.7,1333.9 594.0,1340.0 595.3,1272.5 596.7,1327.0 598.0,1290.0 599.3,1295.3 600.7,1313.1 602.0,1330.0 603.3,1276.1 604.7,1333.1 606.0,1267.0 607.0,1213.8 608.0,1350.0 609.5,1331.0 611.0,1188.0 612.0,1223.2 613.0,1232.0 614.4,1280.7 615.7,1314.3 617.2,1228.0 618.6,1300.0 620.0,1335.9 621.5,1302.1 622.9,1334.4 624.3,1337.1 625.7,1309.6 627.1,1330.1 628.6,1303.1 630.0,1308.6 631.2,1322.0 632.5,1295.9 633.7,1309.0 634.9,1310.9 636.1,1295.7 637.4,1313.0 638.6,1291.4 640.0,1291.1 641.5,1315.2 642.9,1314.3 644.3,1297.5 645.7,1312.4 647.2,1297.9 648.6,1320.2 650.0,1300.0 651.4,1298.4 652.9,1348.1 654.3,1331.4 655.7,1324.0 657.1,1359.8 658.6,1364.3 660.0,1365.7 661.4,1336.4 662.9,1361.9 664.3,1343.5 665.7,1334.3 666.9,1351.0 668.2,1337.2 669.4,1343.1 670.6,1329.2 671.8,1338.8 673.1,1323.8 674.3,1337.1 675.7,1337.7 677.2,1308.2 678.6,1317.1 680.0,1333.9 681.5,1322.3 682.9,1306.5 684.3,1291.4 685.7,1328.2 687.2,1303.5 688.6,1317.1 690.0,1308.2 691.5,1337.6 692.9,1348.6 694.3,1320.3 695.8,1314.4 697.2,1339.5 698.6,1308.6 700.0,1312.7 701.5,1323.2 702.9,1308.9 704.3,1325.7 705.5,1325.9 706.8,1317.2 708.0,1315.4 709.2,1326.4 710.4,1317.1 711.7,1338.4 712.9,1317.1 714.3,1320.1 715.7,1359.2 717.1,1342.9 718.3,1332.9 719.5,1368.9 720.7,1345.5 721.9,1346.9 723.1,1383.8 724.3,1382.9 725.7,1340.1 727.1,1380.7 728.6,1340.5 730.0,1334.3 731.4,1363.9 732.9,1346.6 734.3,1342.9 735.7,1392.9 737.1,1350.0 738.6,1353.4 740.0,1400.0 741.4,1353.0 742.9,1384.3 744.3,1384.7 745.7,1351.4 747.1,1350.9 748.5,1357.7 750.0,1386.0 751.4,1362.9 752.8,1361.0 754.3,1384.9 755.7,1391.4 757.2,1333.6 758.6,1334.3 760.0,1381.7 761.5,1334.3 762.9,1378.4 764.3,1377.1 765.7,1370.5 767.1,1352.0 768.6,1367.7 770.0,1342.9 771.4,1345.7 772.8,1354.4 774.3,1343.4 775.7,1365.3 777.1,1348.6 778.5,1382.0 780.0,1353.4 781.5,1391.2 782.9,1382.9 784.3,1368.2 785.7,1408.6 787.1,1398.8 788.6,1356.5 790.0,1342.9 791.4,1381.0 792.8,1385.7 794.3,1350.3 795.7,1386.2 797.1,1388.6 798.5,1345.8 800.0,1342.9 801.2,1382.0 802.5,1343.6 803.7,1365.0 804.9,1343.6 806.1,1361.5 807.4,1342.9 808.6,1342.9 810.0,1369.3 811.5,1346.9 812.9,1375.5 814.3,1382.9 815.7,1364.0 817.1,1385.2 818.6,1365.5 820.0,1362.9 821.4,1376.7 822.8,1362.6 824.3,1383.4 825.7,1364.6 827.1,1362.9 828.5,1393.1 830.0,1391.4 831.4,1363.9 832.8,1391.1 834.3,1371.8 835.7,1382.0 837.1,1371.4 838.3,1348.5 839.5,1376.6 840.7,1352.3 841.9,1372.3 843.1,1344.6 844.3,1342.9 845.7,1353.1 847.1,1353.1 848.6,1341.3 850.0,1351.1 851.4,1342.9 852.8,1352.9 854.2,1343.1 855.7,1354.6 857.1,1354.3 858.4,1346.1 859.7,1354.0 860.9,1351.1 862.2,1353.2 863.5,1355.3 864.8,1353.2 866.0,1370.8 867.3,1358.4 868.6,1354.3 870.0,1382.6 871.5,1352.2 872.9,1382.9 874.3,1379.0 875.7,1334.3 877.1,1334.3 878.5,1372.4 880.0,1345.4 881.4,1382.9 882.6,1368.6 883.8,1333.0 885.0,1381.6 886.2,1320.1 887.4,1357.2 888.6,1317.1 890.0,1325.4 891.5,1336.7 892.9,1320.9 894.3,1334.3 895.7,1341.4 897.1,1353.4 898.6,1336.3 900.0,1342.9 901.4,1360.5 902.9,1341.8 904.3,1365.7 905.5,1359.2 906.8,1339.3 908.0,1359.8 909.2,1337.1 910.4,1360.9 911.7,1339.8 912.9,1334.3 914.3,1334.5 915.7,1333.3 917.1,1348.6 918.3,1375.4 919.5,1341.0 920.7,1381.0 921.9,1356.4 923.1,1373.7 924.3,1382.9 925.7,1344.3 927.2,1377.8 928.6,1342.9 930.0,1343.8 931.5,1366.1 932.9,1353.2 934.3,1377.1 935.5,1373.4 936.8,1352.5 938.0,1378.9 939.2,1344.8 940.4,1368.3 941.7,1348.0 942.9,1342.9 944.3,1353.3 945.7,1383.6 947.2,1349.9 948.6,1384.3 950.0,1391.4 951.4,1378.4 952.9,1311.7 954.3,1325.7 955.7,1378.3 957.2,1281.9 958.6,1291.4 960.0,1315.1 961.4,1267.1 962.8,1296.8 964.3,1278.0 965.7,1291.4 967.1,1318.0 968.5,1294.5 970.0,1309.9 971.4,1317.1 972.6,1301.3 973.9,1316.9 975.1,1292.7 976.3,1318.4 977.5,1288.3 978.8,1306.4 980.0,1291.4 981.3,1294.4 982.5,1293.0 983.8,1277.5 985.0,1296.4 986.3,1248.6 987.5,1283.1 988.8,1314.2 990.0,1300.0 991.4,1284.2 992.9,1332.0 994.3,1325.7 995.7,1307.2 997.1,1333.4 998.6,1313.4 1000.0,1337.1 1001.4,1301.4 1002.9,1325.4 1004.3,1300.3 1005.7,1300.0 1007.1,1317.5 1008.6,1299.7 1010.0,1300.0 1011.4,1300.3 1012.9,1352.5 1014.3,1348.6 1015.7,1347.4 1017.2,1329.8 1018.6,1365.7 1020.0,1356.2 1021.5,1336.9 1022.9,1334.3 1024.1,1342.5 1025.3,1353.6 1026.5,1334.2 1027.8,1359.7 1029.0,1336.9 1030.2,1359.1 1031.4,1365.7 1032.8,1324.5 1034.2,1354.6 1035.7,1319.7 1037.1,1317.1 1038.3,1345.8 1039.6,1315.1 1040.8,1330.4 1042.0,1314.3 1043.2,1315.1 1044.5,1340.1 1045.7,1317.1 1047.1,1353.3 1048.6,1315.2 1050.0,1357.1 1051.4,1348.7 1052.9,1320.0 1054.3,1300.0 1055.7,1338.9 1057.2,1314.4 1058.6,1341.3 1060.0,1357.1 1061.4,1327.0 1062.8,1315.0 1064.3,1352.2 1065.7,1317.1 1066.9,1300.3 1068.2,1332.5 1069.4,1302.5 1070.6,1282.9 1071.9,1319.5 1073.2,1300.0 1074.4,1334.8 1075.7,1317.1 1076.9,1305.9 1078.2,1359.5 1079.4,1319.9 1080.6,1358.1 1081.8,1321.7 1083.1,1371.5 1084.3,1374.3 1085.7,1309.7 1087.1,1317.1 1088.3,1370.0 1089.6,1318.9 1090.8,1335.1 1092.0,1300.7 1093.2,1311.4 1094.5,1309.2 1095.7,1291.4 1096.9,1294.1 1098.1,1310.4 1099.3,1323.3 1100.5,1294.7 1101.7,1340.2 1102.9,1314.3 1104.3,1303.7 1105.7,1350.4 1107.1,1348.6 1108.5,1311.1 1110.0,1346.1 1111.4,1300.0 1112.8,1311.5 1114.2,1322.0 1115.7,1301.4 1117.1,1317.1 1118.5,1336.6 1120.0,1350.2 1121.5,1325.5 1122.9,1348.6 1124.1,1328.1 1125.3,1349.1 1126.5,1323.2 1127.8,1349.0 1129.0,1321.4 1130.2,1333.5 1131.4,1317.1 1132.8,1320.9 1134.2,1336.7 1135.7,1320.1 1137.1,1342.9 1138.5,1335.7 1140.0,1320.0 1141.5,1320.4 1142.9,1317.1 1144.3,1349.6 1145.8,1324.5 1147.2,1349.5 1148.6,1357.1 1149.8,1332.4 1151.0,1349.3 1152.2,1325.5 1153.5,1355.4 1154.7,1330.5 1155.9,1349.7 1157.1,1325.7 1158.3,1313.6 1159.5,1336.3 1160.7,1310.7 1161.9,1326.2 1163.1,1317.0 1164.3,1308.6 1165.7,1348.7 1167.2,1308.5 1168.6,1342.9 1170.0,1348.0 1171.4,1332.1 1172.9,1341.5 1174.3,1357.1 1175.7,1352.5 1177.2,1332.9 1178.6,1349.9 1180.0,1325.7 1181.2,1342.2 1182.5,1323.8 1183.7,1348.7 1184.9,1333.9 1186.1,1355.6 1187.4,1331.5 1188.6,1348.6 1190.0,1360.8 1191.4,1345.8 1192.9,1366.9 1194.3,1337.1 1195.7,1365.7 1197.1,1364.9 1198.6,1327.2 1200.0,1325.7 1200.0,1325.7 1201.5,1356.0 1202.9,1360.0 1204.3,1335.2 1205.8,1367.2 1207.2,1366.9 1208.6,1380.0 1210.0,1329.2 1211.5,1375.0 1212.9,1320.0 1214.3,1318.2 1215.7,1344.7 1217.2,1323.1 1218.6,1329.2 1220.0,1357.1 1221.4,1322.9 1222.9,1355.9 1224.3,1320.0 1225.7,1320.5 1227.2,1321.0 1228.6,1334.8 1230.0,1334.3 1231.4,1317.2 1232.8,1328.3 1234.3,1316.4 1235.7,1311.4 1237.1,1334.8 1238.6,1312.0 1240.0,1334.3 1241.4,1324.0 1242.8,1308.7 1244.3,1327.9 1245.7,1302.9 1247.1,1301.4 1248.6,1312.9 1250.0,1292.9 1251.4,1292.9 1252.8,1301.2 1254.3,1295.7 1255.7,1302.9 1257.1,1308.2 1258.6,1300.8 1260.0,1327.9 1261.4,1302.9 1262.8,1303.6 1264.3,1328.6 1265.7,1351.3 1267.2,1324.7 1268.6,1362.9 1270.0,1360.5 1271.4,1310.4 1272.9,1352.4 1274.3,1311.4 1275.7,1312.9 1277.2,1346.8 1278.6,1345.7 1280.0,1343.7 1281.4,1316.3 1282.9,1346.7 1284.3,1311.4 1285.7,1310.3 1287.1,1321.4 1288.6,1314.9 1290.0,1333.0 1291.4,1311.4 1292.8,1321.8 1294.3,1339.8 1295.7,1345.7 1297.1,1317.1 1298.6,1350.4 1300.0,1348.5 1301.4,1328.6 1302.8,1325.2 1304.3,1362.9 1305.7,1354.1 1307.2,1326.5 1308.6,1320.0 1310.0,1339.0 1311.4,1324.0 1312.9,1315.3 1314.3,1320.0 1315.7,1320.0 1316.9,1308.0 1318.1,1322.4 1319.3,1321.6 1320.5,1354.9 1321.7,1317.0 1322.9,1308.6 1324.3,1354.3 1325.7,1338.0 1327.2,1303.3 1328.6,1351.7 1330.0,1301.4 1331.4,1299.6 1332.9,1347.0 1334.3,1320.0 1335.7,1305.5 1337.2,1364.8 1338.6,1362.9 1340.0,1327.5 1341.5,1352.9 1342.9,1328.6 1344.3,1336.4 1345.8,1328.0 1347.2,1361.3 1348.6,1342.9 1350.0,1334.7 1351.5,1364.9 1352.9,1362.9 1354.3,1340.6 1355.8,1353.8 1357.2,1340.4 1358.6,1334.3 1360.0,1351.1 1361.4,1336.5 1362.9,1352.7 1364.3,1326.4 1365.7,1354.3 1367.1,1355.7 1368.6,1320.1 1370.0,1320.0 1371.2,1349.6 1372.5,1319.7 1373.7,1330.3 1374.9,1320.3 1376.1,1331.2 1377.4,1335.9 1378.6,1334.3 1380.0,1318.8 1381.5,1331.8 1382.9,1311.4 1384.3,1309.5 1385.8,1326.7 1387.2,1313.8 1388.6,1328.6 1390.0,1325.4 1391.4,1296.8 1392.9,1324.4 1394.3,1302.9 1395.7,1299.5 1397.2,1342.2 1398.6,1285.7 1400.0,1305.8 1401.4,1345.7 1402.8,1325.2 1404.3,1292.5 1405.7,1275.7 1407.2,1330.6 1408.6,1302.9 1410.0,1299.4 1411.5,1335.9 1412.9,1345.7 1414.3,1310.1 1415.8,1338.3 1417.2,1303.9 1418.6,1294.3 1420.0,1297.8 1421.4,1332.5 1422.9,1334.1 1424.3,1310.4 1425.7,1334.3 1427.1,1324.5 1428.6,1305.6 1430.0,1294.3 1431.4,1333.8 1432.9,1298.3 1434.3,1334.3 1435.7,1330.4 1437.2,1312.7 1438.6,1335.1 1440.0,1311.4 1441.5,1310.1 1442.9,1328.6 1444.3,1326.4 1445.7,1310.1 1447.2,1311.4 1448.6,1322.2 1450.0,1311.4 1451.4,1313.0 1452.8,1321.1 1454.3,1314.2 1455.7,1311.4 1457.1,1326.6 1458.6,1306.3 1460.0,1328.6 1461.4,1324.5 1462.9,1309.9 1464.3,1302.9 1465.7,1318.7 1467.1,1303.8 1468.6,1300.3 1470.0,1325.9 1471.4,1302.9 1472.8,1303.7 1474.3,1337.9 1475.7,1345.7 1477.1,1299.5 1478.6,1339.9 1480.0,1281.9 1481.4,1294.3 1482.8,1321.8 1484.3,1307.2 1485.7,1275.7 1487.1,1291.4 1488.6,1277.0 1490.0,1318.6 1491.4,1313.6 1492.8,1300.5 1494.3,1314.9 1495.7,1299.9 1497.1,1294.3 1498.5,1305.1 1500.0,1303.8 1501.5,1305.3 1502.9,1302.9 1504.3,1300.6 1505.7,1296.1 1507.1,1294.3 1508.5,1346.5 1510.0,1364.3 1511.4,1300.0 1512.9,1344.4 1514.3,1334.3 1515.7,1289.1 1517.2,1340.1 1518.6,1293.5 1520.0,1285.7 1521.4,1310.0 1522.8,1293.0 1524.3,1311.0 1525.7,1274.1 1527.1,1311.4 1528.5,1302.0 1530.0,1279.6 1531.4,1267.1 1532.8,1302.8 1534.3,1266.5 1535.7,1294.3 1537.2,1291.0 1538.6,1277.1 1540.0,1276.8 1541.4,1280.6 1542.9,1303.6 1544.3,1328.6 1545.7,1284.7 1547.2,1299.9 1548.6,1285.7 1550.0,1284.5 1551.4,1296.7 1552.9,1283.8 1554.3,1300.0 1555.7,1294.3 1557.1,1289.5 1558.6,1307.9 1560.0,1302.9 1561.4,1299.3 1562.8,1318.9 1564.3,1303.4 1565.7,1318.6 1567.1,1318.4 1568.6,1297.8 1570.0,1319.6 1571.4,1302.9 1572.8,1296.5 1574.2,1316.8 1575.7,1294.6 1577.1,1294.3 1578.5,1338.3 1580.0,1309.0 1581.4,1337.1 1582.8,1323.4 1584.3,1290.2 1585.7,1285.7 1587.0,1323.7 1588.3,1310.6 1589.6,1285.9 1590.9,1288.3 1592.2,1283.8 1593.4,1288.2 1594.7,1283.2 1596.0,1295.4 1597.3,1289.0 1598.6,1285.7 1600.0,1301.6 1601.5,1289.9 1602.9,1302.9 1604.3,1301.0 1605.7,1305.4 1607.2,1298.8 1608.6,1310.6 1610.0,1302.9 1611.4,1304.0 1612.9,1313.4 1614.3,1311.4 1615.5,1316.5 1616.8,1308.0 1618.0,1318.1 1619.2,1310.4 1620.4,1316.3 1621.7,1317.6 1622.9,1318.6 1624.3,1297.4 1625.8,1311.8 1627.2,1301.1 1628.6,1294.3 1630.0,1313.8 1631.4,1292.6 1632.9,1314.1 1634.3,1295.7 1635.7,1318.6 1637.1,1315.8 1638.6,1293.1 1640.0,1311.5 1641.4,1294.3 1642.7,1290.9 1643.9,1301.2 1645.2,1289.1 1646.4,1296.5 1647.7,1297.6 1648.9,1285.1 1650.2,1315.4 1651.4,1285.7 1652.8,1293.9 1654.3,1311.4 1655.7,1318.3 1657.1,1337.1 1658.2,1283.4 1659.4,1274.3 1660.6,1319.4 1661.8,1282.3 1663.1,1298.1 1664.3,1294.3 1665.7,1280.5 1667.2,1298.0 1668.6,1283.4 1670.0,1285.7 1671.4,1317.1 1672.8,1294.9 1674.3,1329.0 1675.7,1318.6 1676.9,1305.7 1678.1,1326.8 1679.3,1316.6 1680.5,1332.4 1681.7,1316.7 1682.9,1337.1 1684.3,1331.0 1685.7,1289.7 1687.1,1302.9 1688.5,1327.3 1690.0,1285.3 1691.4,1285.7 1692.8,1299.7 1694.2,1283.4 1695.7,1277.7 1697.1,1294.3 1698.4,1292.4 1699.6,1284.0 1700.9,1275.7 1702.1,1301.7 1703.3,1276.1 1704.5,1316.9 1705.7,1302.9 1707.1,1283.6 1708.6,1321.3 1710.0,1298.7 1711.4,1328.6 1712.8,1322.8 1714.2,1298.3 1715.7,1321.1 1717.1,1294.3 1718.5,1296.5 1720.0,1317.3 1721.5,1297.5 1722.9,1318.6 1724.3,1305.1 1725.8,1328.3 1727.2,1296.1 1728.6,1330.0 1730.0,1284.8 1731.5,1317.9 1732.9,1285.7 1734.3,1287.2 1735.7,1323.7 1737.2,1296.1 1738.6,1321.7 1740.0,1328.6 1741.5,1284.9 1742.9,1285.7 1744.3,1321.7 1745.8,1329.2 1747.2,1294.6 1748.6,1328.6 1750.0,1321.6 1751.4,1299.9 1752.9,1330.7 1754.3,1293.9 1755.7,1302.9 1757.1,1308.7 1758.6,1287.4 1760.0,1285.7 1761.4,1287.7 1762.8,1290.8 1764.3,1312.7 1765.7,1310.8 1767.1,1311.4 1768.5,1288.7 1770.0,1306.1 1771.4,1285.7 1772.8,1289.9 1774.3,1293.9 1775.7,1311.4 1777.1,1286.7 1778.6,1300.2 1780.0,1279.5 1781.4,1274.3 1782.8,1299.1 1784.3,1273.4 1785.7,1302.9 1787.1,1300.2 1788.6,1274.8 1790.0,1277.1 1791.4,1283.9 1792.9,1305.5 1794.3,1311.4 1795.7,1275.1 1797.2,1303.8 1798.6,1267.1 1800.0,1267.1 1801.4,1265.5 1802.9,1309.1 1804.3,1311.4 1805.7,1275.4 1807.2,1301.6 1808.6,1277.1 1810.0,1267.5 1811.4,1288.0 1812.9,1259.6 1814.3,1255.7 1815.7,1259.4 1817.2,1311.5 1818.6,1318.6 1820.0,1268.9 1821.5,1269.9 1822.9,1268.6 1824.3,1306.7 1825.8,1277.8 1827.2,1311.3 1828.6,1320.0 1830.0,1318.7 1831.5,1289.5 1832.9,1285.7 1834.3,1317.2 1835.7,1330.0 1837.2,1278.8 1838.6,1275.7 1840.0,1323.1 1841.5,1289.3 1842.9,1330.0 1844.3,1296.3 1845.7,1321.0 1847.1,1285.7 1848.5,1289.7 1850.0,1313.1 1851.4,1318.6 1852.8,1297.4 1854.2,1312.7 1855.7,1299.8 1857.1,1294.3 1858.5,1320.4 1860.0,1300.1 1861.4,1318.6 1862.8,1309.2 1864.2,1292.7 1865.7,1317.9 1867.1,1285.7 1868.5,1278.5 1870.0,1301.8 1871.4,1275.7 1872.8,1279.6 1874.3,1311.4 1875.7,1306.2 1877.2,1278.1 1878.6,1283.4 1880.0,1285.7 1881.4,1295.2 1882.9,1269.1 1884.3,1267.1 1885.7,1282.1 1887.2,1305.7 1888.6,1318.6 1890.0,1278.4 1891.4,1312.0 1892.9,1286.1 1894.3,1285.7 1895.7,1329.6 1897.2,1293.8 1898.6,1336.2 1900.0,1337.1 1901.4,1305.3 1902.8,1323.8 1904.3,1295.3 1905.7,1294.3 1907.1,1329.9 1908.6,1299.4 1910.0,1328.6 1911.4,1313.7 1912.9,1276.2 1914.3,1277.1 1915.7,1308.9 1917.2,1280.0 1918.6,1295.9 1920.0,1294.3 1921.5,1268.2 1922.9,1255.7 1924.3,1284.3 1925.7,1321.9 1927.1,1302.9 1928.6,1345.7 1930.0,1294.6 1931.5,1327.4 1932.9,1302.9 1934.3,1300.7 1935.8,1323.9 1937.2,1304.5 1938.6,1328.6 1940.0,1313.6 1941.5,1344.0 1942.9,1318.6 1944.3,1320.7 1945.7,1354.8 1947.1,1364.3 1948.5,1328.2 1950.0,1344.7 1951.4,1318.6 1952.8,1326.5 1954.3,1339.6 1955.7,1345.7 1957.1,1315.2 1958.6,1336.8 1960.0,1302.9 1961.4,1300.7 1962.9,1330.1 1964.3,1334.3 1965.7,1306.8 1967.2,1332.8 1968.6,1312.6 1970.0,1302.9 1971.4,1307.5 1972.8,1316.0 1974.3,1300.7 1975.7,1313.4 1977.1,1311.4 1978.5,1304.6 1980.0,1314.1 1981.5,1301.3 1982.9,1302.9 1984.3,1338.0 1985.8,1314.0 1987.2,1342.8 1988.6,1345.7 1990.0,1310.6 1991.4,1315.6 1992.9,1302.0 1994.3,1302.9 1995.7,1340.2 1997.1,1345.7 1998.5,1302.9 2000.0,1353.8 2001.5,1352.3 2002.9,1355.7 2004.3,1314.8 2005.7,1352.8 2007.1,1318.6 2008.5,1314.2 2010.0,1325.5 2011.5,1305.1 2012.9,1302.9 2014.1,1326.1 2015.3,1302.5 2016.5,1338.3 2017.8,1312.1 2019.0,1344.0 2020.2,1323.5 2021.4,1345.7 2022.8,1335.6 2024.2,1315.7 2025.7,1337.0 2027.1,1302.9 2028.5,1309.1 2030.0,1328.1 2031.5,1310.9 2032.9,1334.3 2034.3,1325.1 2035.7,1309.6 2037.1,1302.9 2038.5,1330.7 2040.0,1306.7 2041.5,1327.5 2042.9,1337.1 2044.3,1315.0 2045.8,1338.7 2047.2,1309.4 2048.6,1311.4 2050.0,1325.2 2051.4,1301.0 2052.9,1312.9 2054.3,1302.9 2055.6,1292.4 2056.9,1321.2 2058.1,1291.4 2059.4,1292.9 2060.4,1324.0 2061.4,1330.0 2062.6,1294.8 2063.8,1320.0 2065.0,1307.1 2066.2,1302.5 2067.4,1327.7 2068.6,1302.9 2070.0,1303.7 2071.4,1311.9 2072.9,1302.1 2074.3,1301.7 2075.7,1302.9 2077.1,1309.3 2078.6,1301.8 2080.0,1312.3 2081.4,1311.4 2082.8,1307.2 2084.2,1338.7 2085.7,1308.6 2087.1,1311.4 2088.6,1345.4 2090.0,1355.7 2091.4,1301.3 2092.9,1293.3 2094.3,1294.3 2095.7,1328.4 2097.2,1297.8 2098.6,1305.3 2100.0,1294.3 2101.4,1289.0 2102.8,1300.7 2104.3,1290.2 2105.7,1324.5 2107.1,1285.7 2108.6,1303.6 2110.0,1337.1 2111.4,1324.8 2112.8,1303.9 2114.3,1306.9 2115.7,1294.3 2117.1,1321.8 2118.6,1298.2 2120.0,1294.3 2121.4,1326.4 2122.8,1294.5 2124.3,1336.1 2125.7,1337.1 2127.1,1335.3 2128.6,1306.8 2130.0,1333.3 2131.4,1294.3 2132.8,1292.1 2134.2,1309.0 2135.7,1297.2 2137.1,1311.4 2138.6,1312.0 2140.0,1297.4 2141.4,1320.0 2142.9,1294.3 2144.3,1303.4 2145.7,1323.1 2147.1,1337.1 2148.5,1288.4 2150.0,1314.7 2151.4,1285.7 2152.8,1290.3 2154.3,1313.9 2155.7,1318.6 2156.9,1289.0 2158.2,1319.6 2159.4,1274.3 2160.6,1294.1 2161.9,1339.3 2163.1,1298.5 2164.3,1345.7 2165.7,1333.8 2167.2,1309.5 2168.6,1328.6 2170.0,1337.5 2171.5,1305.0 2172.9,1294.3 2174.3,1316.8 2175.7,1299.3 2177.1,1320.0 2178.3,1317.4 2179.5,1292.6 2180.7,1312.4 2181.9,1295.3 2183.1,1308.4 2184.3,1285.7 2185.6,1288.7 2186.8,1297.8 2188.1,1285.7 2189.3,1287.3 2190.6,1289.6 2191.8,1326.5 2193.1,1284.7 2194.3,1285.7 2195.7,1330.0 2196.9,1331.6 2198.1,1294.0 2199.3,1315.5 2200.5,1294.0 2201.7,1315.0 2202.9,1285.7 2204.1,1284.1 2205.3,1298.3 2206.5,1286.9 2207.8,1295.8 2209.0,1285.9 2210.2,1296.2 2211.4,1294.3 2212.8,1279.8 2214.2,1280.0 2215.7,1277.7 2217.1,1275.7 2218.3,1284.5 2219.6,1277.1 2220.8,1280.3 2222.0,1275.2 2223.2,1297.9 2224.5,1316.7 2225.7,1275.7 2227.1,1320.9 2228.6,1277.0 2230.0,1336.0 2231.4,1337.1 2232.8,1282.7 2234.3,1334.0 2235.7,1275.7 2237.1,1284.7 2238.6,1300.5 2240.0,1291.3 2241.4,1275.7 2242.8,1278.3 2244.3,1334.3 2245.7,1337.1 2246.9,1286.1 2248.1,1328.0 2249.3,1310.6 2250.5,1336.2 2251.7,1293.3 2252.9,1337.1 2254.3,1320.7 2255.7,1275.7 2257.1,1330.1 2258.6,1276.9 2260.0,1274.3" fill="none" stroke="#fc4040" stroke-width="5.0" stroke-linejoin="miter" stroke-miterlimit="2" stroke-linecap="butt"/>
<polyline points="334.0,1683.0 336.0,1666.0 340.0,1651.0 354.0,1650.0 357.0,1637.0 361.0,1629.0 369.0,1617.0 373.0,1586.0 377.0,1574.0 379.0,1549.0 384.0,1540.0 388.0,1512.6 394.0,1492.6 398.0,1472.7 407.0,1464.0 411.0,1438.5 415.4,1421.4 422.5,1418.6 426.8,1387.0 434.0,1359.0 444.0,1353.0 446.7,1341.7 452.4,1327.5 456.7,1319.0 461.0,1296.0 463.8,1313.0 466.6,1339.0 471.0,1313.0 475.0,1276.0 478.0,1180.0" fill="none" stroke="#0068e0" stroke-width="4.4" stroke-linejoin="round" stroke-miterlimit="2" stroke-linecap="butt"/>
<polyline points="478.0,1180.0 481.0,1000.0 483.0,921.0 484.0,1100.0 485.0,1433.0 486.5,1290.0 487.8,1467.1 489.0,1507.0 490.5,1414.1 492.0,1400.0 493.3,1275.0 494.7,1394.4 496.0,1250.0 497.0,1240.2 498.0,1171.0 499.0,1361.5 500.0,1300.0 501.5,1239.6 503.0,1452.9 504.5,1453.0 505.7,1349.8 506.8,1415.5 508.0,1380.0 509.3,1399.5 510.7,1312.7 512.0,1300.0 513.3,1423.7 514.7,1237.2 516.0,1432.0 517.5,1334.4 519.0,1200.0 520.0,1154.4 521.0,1004.0 522.0,1367.7 523.0,1250.0 524.2,1166.4 525.4,1384.3 526.6,1253.7 527.8,1403.0 529.4,1386.6 531.0,1300.0 532.3,1256.7 533.6,1171.0 535.0,1300.0 536.2,1357.1 537.4,1432.0 538.6,1243.3 539.8,1407.7 541.0,1350.0 542.5,1324.0 544.0,1414.0 545.3,1399.7 546.7,1209.5 548.0,1250.0 549.3,1324.9 550.7,1114.8 552.0,1100.0 553.5,1185.3 555.0,1004.0 556.5,987.5 558.0,1100.0 559.0,1056.3 560.0,1000.0 561.3,967.3 562.6,942.0 563.8,1206.5 565.0,1100.0 566.5,1041.1 568.0,1300.0 569.5,1262.2 571.0,1200.0 572.4,1179.3 573.8,1266.9 575.2,1150.0 576.6,1223.4 578.0,1300.0 579.2,1339.3 580.4,1233.7 581.6,1373.1 582.8,1295.1 584.0,1432.0 585.3,1393.8 586.7,1311.2 588.0,1330.0 589.3,1280.6 590.7,1349.1 592.0,1250.0 593.2,1285.1 594.3,1363.8 595.5,1381.0 596.8,1332.1 598.0,1250.0 599.0,1197.2 600.0,1171.4 601.4,1194.1 602.9,1162.1 604.3,1142.7 605.7,1108.6 607.2,1266.7 608.6,1317.1 610.0,1183.1 611.5,1281.7 612.9,1328.6 614.3,1173.6 615.8,1133.2 617.2,1303.4 618.6,1191.4 620.0,1220.5 621.4,1074.3 622.8,1169.4 624.2,1057.0 625.7,1114.1 627.1,942.9 628.5,1078.7 630.0,1198.9 631.4,1148.6 632.9,1260.0 634.3,1116.9 635.8,1160.3 637.2,1276.4 638.6,1288.6 640.0,1272.0 641.5,1294.0 642.9,1308.6 644.3,1258.0 645.7,1254.3 647.1,1274.9 648.6,1266.5 650.0,1254.3 651.5,1101.0 652.9,1067.1 654.3,1103.7 655.7,1126.4 657.1,1165.7 658.5,1245.1 660.0,1172.6 661.4,1245.7 662.8,1223.5 664.3,1131.4 665.7,1152.2 667.2,1208.1 668.6,1131.4 670.0,1135.5 671.5,1185.2 672.9,1194.3 674.3,1177.8 675.7,1135.7 677.1,1162.9 678.5,1173.6 680.0,1174.9 681.4,1128.6 682.8,1132.6 684.3,1194.3 685.7,1169.5 687.2,1056.4 688.6,1165.7 690.0,1181.5 691.4,1005.7 692.8,1049.8 694.3,1139.1 695.7,1128.6 697.1,1036.0 698.6,1158.6 700.0,1174.3 701.4,1013.6 702.9,1130.0 704.3,1045.7 705.7,999.0 707.2,1055.8 708.6,962.9 710.0,906.7 711.5,914.6 712.9,888.6 714.3,904.0 715.7,1075.3 717.1,942.9 718.5,1118.7 720.0,1088.6 721.4,983.9 722.9,1165.5 724.3,1194.3 725.7,1174.8 727.1,1139.2 728.6,1110.5 730.0,1194.3 731.5,1174.4 732.9,1080.0 734.3,1077.1 735.7,1141.2 737.1,1057.1 738.5,1055.5 740.0,1061.2 741.5,1078.8 742.9,1071.4 744.3,1060.7 745.8,1120.1 747.2,1077.3 748.6,1080.0 750.0,1151.4 751.4,1118.4 752.9,1078.0 754.3,1112.9 755.7,1108.6 757.1,1059.1 758.6,1110.0 760.0,1037.1 761.4,1036.8 762.9,1091.7 764.3,1034.3 765.7,1056.1 767.2,1117.4 768.6,1131.4 770.0,1031.9 771.5,1130.1 772.9,1045.7 774.3,1022.7 775.7,1007.8 777.1,942.9 778.5,1086.9 780.0,1012.1 781.4,1060.0 782.8,1098.0 784.3,1058.7 785.7,1120.0 787.1,1128.8 788.5,1132.8 790.0,1117.8 791.4,1165.7 792.8,1107.2 794.2,1129.7 795.7,1104.7 797.1,1100.0 798.5,1115.0 800.0,1050.2 801.5,1090.3 802.9,1120.0 804.3,1025.7 805.7,998.2 807.2,1111.8 808.6,984.3 810.0,1021.3 811.5,1110.1 812.9,1120.0 814.3,1061.9 815.7,1128.8 817.1,1142.9 818.5,1040.8 820.0,1127.4 821.4,1037.1 822.8,1040.8 824.2,1078.3 825.7,1016.9 827.1,1004.3 828.5,1053.6 830.0,1059.8 831.4,1042.9 832.8,1036.6 834.2,1086.1 835.7,1089.8 837.1,1088.6 838.5,1038.9 840.0,1107.5 841.4,1025.7 842.8,1106.5 844.3,1111.4 845.7,1032.7 847.1,1095.9 848.6,1007.3 850.0,1071.4 851.5,1077.2 852.9,962.9 854.3,970.1 855.7,1028.3 857.1,962.9 858.5,1004.4 860.0,994.3 861.5,964.1 862.9,1088.6 864.3,1116.8 865.8,1047.8 867.2,1118.4 868.6,1122.9 870.0,1062.8 871.5,1100.3 872.9,1057.1 874.3,1126.1 875.7,1080.8 877.1,1068.6 878.5,1142.0 880.0,1154.3 881.4,1096.0 882.9,1145.2 884.3,1165.7 885.7,1095.8 887.2,1142.0 888.6,1111.4 890.0,1139.4 891.5,1054.1 892.9,1057.1 894.3,1088.8 895.7,1052.3 897.1,1034.3 898.5,1066.5 900.0,1065.7 901.4,1045.5 902.8,1067.3 904.3,1059.9 905.7,1090.6 907.1,1071.4 908.5,1073.9 910.0,1119.1 911.5,1079.4 912.9,1102.9 914.3,1142.9 915.7,1142.6 917.1,1108.1 918.6,1135.3 920.0,1120.0 921.4,1104.8 922.8,1130.2 924.3,1123.4 925.7,1103.1 927.1,1097.1 928.5,1120.8 930.0,1102.6 931.4,1134.3 932.8,1125.0 934.3,1116.1 935.7,1111.4 937.1,1114.0 938.6,1029.6 940.0,1111.4 941.4,1015.7 942.8,1020.5 944.2,1096.6 945.7,984.7 947.1,1025.7 948.5,1010.0 950.0,975.6 951.4,962.9 952.8,1073.2 954.3,1008.9 955.7,974.3 957.2,1094.9 958.6,1122.9 960.0,1026.1 961.5,1113.8 962.9,1100.0 964.3,1034.8 965.7,994.3 967.1,1100.7 968.6,1015.0 970.0,997.1 971.4,1093.3 972.9,1004.9 974.3,1122.9 975.7,1101.7 977.1,1080.1 978.6,1124.1 980.0,1097.1 981.4,1057.2 982.9,1092.3 984.3,1047.3 985.7,1068.6 987.2,1072.2 988.6,1025.7 990.0,1012.2 991.5,1046.8 992.9,1004.3 994.3,1014.3 995.7,1036.0 997.1,1034.3 998.5,1013.0 1000.0,1058.5 1001.5,1037.1 1002.9,1048.6 1004.3,1097.0 1005.7,1080.0 1007.1,1053.7 1008.5,1117.2 1010.0,1088.9 1011.4,1134.3 1012.8,1080.2 1014.2,1123.2 1015.7,1071.4 1017.1,1080.0 1018.3,1113.9 1019.5,1070.4 1020.7,1086.7 1021.9,1061.1 1023.1,1085.2 1024.3,1045.7 1025.7,1067.0 1027.1,1088.6 1028.3,1086.6 1029.6,1071.6 1030.8,1090.2 1032.1,1076.9 1033.3,1086.7 1034.6,1105.3 1035.8,1088.6 1037.1,1077.1 1038.5,1122.8 1040.0,1113.0 1041.4,1122.9 1042.6,1081.5 1043.8,1097.3 1045.0,1116.4 1046.2,1095.2 1047.4,1118.2 1048.6,1100.0 1049.8,1113.3 1051.0,1091.4 1052.2,1100.5 1053.5,1086.4 1054.7,1100.6 1055.9,1088.3 1057.1,1088.6 1058.5,1101.7 1060.0,1088.9 1061.5,1097.6 1062.9,1100.0 1064.3,1098.5 1065.7,1098.1 1067.2,1090.8 1068.6,1117.7 1070.0,1088.6 1071.4,1095.0 1072.8,1121.6 1074.3,1133.4 1075.7,1134.3 1076.9,1105.1 1078.1,1130.9 1079.3,1110.4 1080.5,1133.4 1081.7,1086.8 1082.9,1134.3 1084.3,1117.5 1085.7,1080.0 1087.2,1085.8 1088.6,1045.7 1090.0,1122.4 1091.4,1128.6 1092.8,1079.0 1094.2,1089.3 1095.7,1135.8 1097.1,1097.1 1098.5,1108.5 1100.0,1151.4 1101.2,1149.0 1102.5,1111.6 1103.7,1132.8 1104.9,1152.7 1106.1,1129.2 1107.4,1142.6 1108.6,1140.0 1110.0,1123.5 1111.4,1144.6 1112.9,1125.5 1114.3,1120.0 1115.7,1138.2 1117.2,1123.6 1118.6,1142.9 1120.0,1136.1 1121.5,1116.0 1122.9,1108.6 1124.3,1132.9 1125.8,1112.3 1127.2,1124.4 1128.6,1128.6 1130.0,1116.8 1131.4,1128.0 1132.9,1121.2 1134.3,1120.0 1135.7,1144.7 1137.1,1120.3 1138.6,1149.8 1140.0,1126.4 1141.4,1151.4 1142.6,1146.8 1143.8,1121.4 1145.0,1147.0 1146.2,1123.5 1147.4,1141.7 1148.6,1120.0 1150.0,1125.2 1151.5,1144.1 1152.9,1151.4 1154.3,1130.8 1155.7,1151.9 1157.2,1143.6 1158.6,1150.5 1160.0,1151.4 1161.4,1153.0 1162.8,1131.9 1164.3,1147.2 1165.7,1131.5 1167.1,1131.4 1168.5,1140.9 1170.0,1113.0 1171.4,1142.9 1172.8,1133.5 1174.3,1114.5 1175.7,1108.6 1177.1,1132.1 1178.6,1118.3 1180.0,1142.9 1181.4,1136.8 1182.9,1112.8 1184.3,1100.0 1185.7,1117.3 1187.2,1070.7 1188.6,1100.0 1190.0,1095.6 1191.4,1045.7 1192.6,1054.7 1193.9,1086.6 1195.1,1045.1 1196.3,1054.4 1197.5,1103.8 1198.8,1054.7 1200.0,1045.7 1200.0,1068.6 1201.5,1110.7 1202.9,1120.0 1204.3,1058.5 1205.7,1121.6 1207.2,1099.6 1208.6,1091.4 1210.0,1134.3 1211.5,1113.0 1212.9,1068.6 1214.3,1075.3 1215.7,1104.6 1217.1,1068.6 1218.5,1078.9 1220.0,1120.0 1221.4,1131.9 1222.8,1097.6 1224.3,1131.7 1225.7,1121.3 1227.1,1142.9 1228.5,1139.6 1230.0,1125.7 1231.4,1122.9 1232.8,1144.8 1234.3,1142.9 1235.7,1141.6 1237.1,1141.0 1238.6,1100.9 1240.0,1137.5 1241.4,1120.0 1242.9,1100.0 1244.2,1107.5 1245.5,1118.2 1246.8,1101.2 1248.2,1098.7 1249.5,1102.7 1250.8,1098.8 1252.1,1101.9 1253.4,1097.2 1254.7,1102.5 1256.1,1101.9 1257.4,1094.1 1258.7,1098.0 1260.0,1100.0 1261.4,1089.7 1262.9,1099.1 1264.3,1088.6 1265.7,1086.9 1267.2,1089.9 1268.6,1104.9 1270.0,1100.0 1271.4,1092.6 1272.8,1108.8 1274.3,1103.2 1275.7,1105.7 1277.1,1126.0 1278.6,1102.8 1280.0,1129.6 1281.4,1128.6 1282.8,1097.0 1284.3,1087.0 1285.7,1142.9 1287.2,1126.9 1288.6,1077.1 1290.0,1076.4 1291.5,1123.9 1292.9,1131.4 1294.3,1100.3 1295.7,1123.5 1297.1,1088.6 1298.5,1091.4 1300.0,1109.8 1301.4,1111.4 1302.7,1093.6 1304.0,1113.9 1305.2,1105.3 1306.5,1113.4 1307.8,1109.3 1309.1,1111.1 1310.3,1121.7 1311.6,1110.3 1312.9,1111.4 1314.3,1132.3 1315.8,1112.1 1317.2,1140.7 1318.6,1134.3 1320.0,1125.9 1321.5,1138.1 1322.9,1142.9 1324.2,1136.7 1325.4,1144.1 1326.7,1139.7 1328.0,1145.2 1329.2,1141.7 1330.5,1144.5 1331.8,1133.5 1333.0,1145.4 1334.3,1142.9 1335.7,1122.0 1337.2,1144.2 1338.6,1123.7 1340.0,1120.0 1341.4,1130.6 1342.8,1120.4 1344.3,1131.2 1345.7,1128.6 1346.9,1121.8 1348.1,1131.3 1349.3,1125.3 1350.5,1136.6 1351.7,1129.9 1352.9,1128.6 1354.3,1138.1 1355.7,1115.9 1357.1,1142.9 1358.5,1134.1 1360.0,1102.9 1361.4,1098.7 1362.8,1127.8 1364.3,1095.8 1365.7,1088.6 1367.1,1101.2 1368.6,1087.5 1370.0,1100.3 1371.4,1100.0 1372.8,1093.6 1374.2,1112.5 1375.7,1102.7 1377.1,1105.7 1378.5,1116.9 1380.0,1104.7 1381.5,1121.1 1382.9,1122.9 1384.3,1116.4 1385.8,1120.0 1387.2,1092.4 1388.6,1102.9 1390.0,1111.8 1391.4,1095.1 1392.9,1104.9 1394.3,1088.6 1395.7,1087.7 1397.2,1101.3 1398.6,1087.4 1400.0,1105.7 1401.5,1105.0 1402.9,1077.1 1404.3,1080.7 1405.8,1099.7 1407.2,1087.1 1408.6,1094.3 1410.0,1103.7 1411.5,1094.3 1412.9,1108.6 1414.3,1108.6 1415.7,1100.2 1417.2,1112.4 1418.6,1098.1 1420.0,1111.4 1421.4,1116.8 1422.9,1096.9 1424.3,1091.4 1425.7,1138.9 1427.2,1110.2 1428.6,1142.9 1430.0,1142.3 1431.5,1116.9 1432.9,1117.1 1434.2,1131.9 1435.4,1132.7 1436.7,1115.1 1437.9,1122.3 1439.2,1122.2 1440.4,1104.7 1441.7,1115.0 1442.9,1120.0 1444.3,1096.0 1445.7,1100.0 1447.1,1120.5 1448.6,1098.2 1450.0,1087.4 1451.4,1094.3 1452.8,1095.4 1454.3,1088.7 1455.7,1077.1 1457.1,1104.0 1458.6,1109.9 1460.0,1108.6 1461.4,1092.3 1462.8,1107.3 1464.3,1082.5 1465.7,1094.3 1467.1,1080.9 1468.6,1094.5 1470.0,1080.0 1471.4,1082.1 1472.8,1098.0 1474.3,1084.3 1475.7,1097.1 1477.1,1098.4 1478.6,1083.0 1480.0,1080.0 1481.5,1091.5 1482.9,1047.1 1484.3,1060.2 1485.8,1092.3 1487.2,1051.8 1488.6,1091.4 1490.0,1089.8 1491.4,1057.1 1492.8,1061.8 1494.2,1054.8 1495.7,1082.7 1497.1,1071.4 1498.5,1069.7 1500.0,1098.4 1501.5,1077.2 1502.9,1091.4 1504.3,1107.8 1505.7,1117.2 1507.1,1108.6 1508.5,1093.4 1510.0,1124.5 1511.4,1122.9 1512.8,1097.4 1514.2,1114.5 1515.7,1093.3 1517.1,1088.6 1518.5,1099.8 1520.0,1080.3 1521.5,1092.0 1522.9,1077.1 1524.3,1075.6 1525.7,1102.6 1527.1,1100.0 1528.5,1086.3 1530.0,1105.5 1531.4,1108.6 1532.6,1101.5 1533.9,1108.4 1535.1,1105.1 1536.3,1104.9 1537.5,1109.1 1538.8,1098.4 1540.0,1108.6 1541.4,1108.7 1542.9,1095.9 1544.3,1088.6 1545.7,1109.3 1547.2,1099.3 1548.6,1108.6 1549.8,1110.0 1551.0,1101.2 1552.2,1108.3 1553.5,1099.0 1554.7,1095.4 1555.9,1105.8 1557.1,1102.9 1558.5,1091.9 1560.0,1103.5 1561.5,1087.5 1562.9,1088.6 1564.3,1102.2 1565.8,1090.8 1567.2,1097.8 1568.6,1100.0 1569.9,1099.7 1571.1,1092.5 1572.4,1102.0 1573.7,1097.5 1574.9,1098.7 1576.2,1103.2 1577.5,1098.1 1578.7,1106.6 1580.0,1100.0 1581.4,1098.8 1582.9,1106.1 1584.3,1108.6 1585.7,1086.6 1587.2,1108.1 1588.6,1088.6 1589.7,1079.7 1590.9,1096.6 1592.0,1068.6 1593.3,1080.1 1594.5,1090.2 1595.8,1089.7 1597.1,1088.6 1598.5,1085.9 1600.0,1093.1 1601.4,1108.6 1602.6,1089.1 1603.8,1096.2 1605.0,1082.1 1606.2,1095.4 1607.4,1078.2 1608.6,1088.6 1610.0,1093.2 1611.4,1077.1 1612.7,1079.7 1614.1,1084.2 1615.4,1074.7 1616.7,1080.1 1618.1,1074.9 1619.4,1078.8 1620.7,1076.6 1622.1,1079.5 1623.4,1076.4 1624.7,1081.1 1626.1,1076.3 1627.4,1083.2 1628.7,1076.6 1630.1,1087.7 1631.4,1078.6 1632.8,1080.1 1634.3,1101.3 1635.7,1094.3 1637.1,1082.5 1638.6,1115.0 1640.0,1098.0 1641.4,1122.9 1642.8,1118.6 1644.3,1119.5 1645.7,1105.7 1647.1,1099.4 1648.6,1115.5 1650.0,1105.2 1651.4,1100.0 1652.6,1080.4 1653.8,1101.6 1655.0,1081.8 1656.2,1099.0 1657.4,1081.3 1658.6,1077.1 1660.0,1100.5 1661.5,1080.6 1662.9,1100.0 1664.3,1071.5 1665.8,1097.7 1667.2,1072.1 1668.6,1068.6 1670.0,1100.6 1671.5,1074.1 1672.9,1100.0 1674.3,1072.2 1675.7,1099.7 1677.2,1082.1 1678.6,1091.2 1680.0,1077.1 1681.4,1101.0 1682.8,1105.5 1684.3,1086.6 1685.7,1108.6 1687.1,1092.6 1688.6,1109.3 1690.0,1101.1 1691.4,1102.9 1692.8,1113.5 1694.3,1098.6 1695.7,1111.4 1697.1,1088.6 1698.6,1105.2 1700.0,1094.3 1701.4,1083.2 1702.8,1096.1 1704.3,1074.5 1705.7,1077.1 1706.9,1089.3 1708.2,1076.5 1709.4,1095.7 1710.6,1075.8 1711.8,1091.7 1713.1,1092.4 1714.3,1094.3 1715.7,1069.9 1717.2,1087.0 1718.6,1068.6 1720.0,1073.1 1721.5,1089.5 1722.9,1094.3 1724.3,1080.3 1725.8,1089.3 1727.2,1075.2 1728.6,1077.1 1730.0,1088.3 1731.4,1073.4 1732.9,1080.9 1734.3,1080.0 1735.7,1068.8 1737.2,1086.3 1738.6,1057.1 1740.0,1073.8 1741.5,1097.4 1742.9,1100.0 1744.3,1077.0 1745.8,1098.9 1747.2,1083.2 1748.6,1091.4 1750.0,1096.3 1751.4,1071.3 1752.9,1087.4 1754.3,1080.0 1755.6,1064.3 1756.8,1080.0 1758.1,1083.4 1759.4,1057.1 1760.6,1080.1 1761.8,1066.8 1763.1,1088.3 1764.3,1088.6 1765.7,1073.1 1767.2,1067.2 1768.6,1071.1 1770.0,1068.6 1771.4,1098.2 1772.9,1077.5 1774.3,1094.3 1775.7,1099.5 1777.2,1089.9 1778.6,1108.6 1780.0,1099.6 1781.4,1081.5 1782.9,1101.1 1784.3,1077.1 1785.7,1081.4 1787.2,1091.5 1788.6,1094.3 1790.0,1065.8 1791.4,1084.4 1792.9,1083.9 1794.3,1068.6 1795.7,1065.6 1797.2,1086.1 1798.6,1057.1 1800.0,1057.1 1801.5,1069.0 1802.9,1100.0 1804.3,1099.8 1805.7,1067.5 1807.2,1098.3 1808.6,1090.6 1810.0,1088.6 1811.4,1097.0 1812.8,1090.9 1814.3,1102.6 1815.7,1090.6 1817.1,1100.0 1818.5,1099.5 1820.0,1087.1 1821.5,1098.9 1822.9,1091.4 1824.0,1087.1 1825.2,1096.7 1826.3,1077.1 1827.5,1085.6 1828.8,1098.5 1830.0,1094.3 1831.4,1090.8 1832.8,1107.0 1834.3,1098.8 1835.7,1100.0 1837.1,1100.6 1838.6,1116.9 1840.0,1120.0 1841.4,1117.4 1842.8,1111.2 1844.3,1121.1 1845.7,1110.3 1847.1,1108.6 1848.5,1120.2 1850.0,1100.2 1851.4,1120.0 1852.8,1117.8 1854.3,1081.6 1855.7,1088.6 1857.1,1110.4 1858.6,1075.1 1860.0,1068.2 1861.4,1068.6 1862.6,1083.6 1863.8,1069.6 1865.0,1078.3 1866.2,1066.4 1867.4,1086.6 1868.6,1068.6 1870.0,1062.5 1871.4,1088.6 1872.8,1079.0 1874.3,1059.4 1875.7,1058.6 1877.0,1085.4 1878.3,1059.4 1879.6,1066.6 1880.9,1057.6 1882.2,1056.6 1883.4,1060.8 1884.7,1060.7 1886.0,1060.6 1887.3,1080.0 1888.6,1058.6 1890.0,1063.9 1891.4,1088.6 1892.8,1085.7 1894.3,1065.2 1895.7,1068.6 1897.1,1085.6 1898.6,1073.0 1900.0,1100.2 1901.4,1068.6 1902.8,1075.9 1904.3,1108.6 1905.7,1097.2 1907.2,1084.5 1908.6,1108.9 1910.0,1108.6 1911.5,1109.3 1912.9,1088.6 1914.3,1091.0 1915.8,1099.3 1917.2,1089.0 1918.6,1100.0 1920.0,1100.3 1921.4,1081.4 1922.9,1098.2 1924.3,1079.5 1925.7,1080.0 1927.0,1089.3 1928.2,1080.1 1929.5,1085.5 1930.7,1077.2 1932.0,1094.1 1933.2,1087.3 1934.5,1112.1 1935.7,1080.0 1936.9,1091.2 1938.2,1118.5 1939.4,1120.0 1940.6,1082.4 1941.7,1080.3 1942.9,1080.0 1944.2,1108.9 1945.5,1078.2 1946.8,1090.4 1948.2,1077.8 1949.5,1078.5 1950.8,1082.7 1952.1,1077.7 1953.4,1082.0 1954.7,1077.7 1956.1,1081.9 1957.4,1078.3 1958.7,1081.6 1960.0,1080.0 1961.4,1079.1 1962.8,1080.8 1964.3,1077.1 1965.7,1080.1 1967.1,1080.0 1968.5,1075.4 1970.0,1068.6 1971.4,1082.7 1972.9,1077.7 1974.3,1080.0 1975.7,1077.4 1977.1,1100.0 1978.5,1086.5 1980.0,1076.9 1981.5,1082.9 1982.9,1080.0 1984.3,1073.4 1985.7,1074.1 1987.2,1081.3 1988.6,1069.4 1990.0,1074.3 1991.0,1080.8 1992.0,1058.6 1993.2,1068.6 1994.5,1081.7 1995.7,1080.0 1997.2,1074.4 1998.6,1108.6 2000.0,1075.4 2001.5,1086.5 2002.9,1077.1 2004.1,1077.4 2005.3,1083.8 2006.5,1074.4 2007.8,1076.2 2009.0,1076.4 2010.2,1090.6 2011.4,1080.0 2012.6,1064.2 2013.7,1100.0 2014.9,1057.1 2016.2,1082.4 2017.5,1082.9 2018.7,1060.8 2020.0,1058.6 2021.4,1075.3 2022.8,1063.6 2024.3,1080.5 2025.7,1077.1 2027.1,1072.0 2028.6,1085.2 2030.0,1078.1 2031.4,1088.6 2032.7,1088.6 2034.0,1082.0 2035.2,1089.3 2036.5,1087.0 2037.8,1085.9 2039.1,1091.3 2040.3,1078.3 2041.6,1084.4 2042.9,1088.6 2044.3,1062.3 2045.7,1085.6 2047.1,1065.7 2048.3,1065.2 2049.5,1074.9 2050.7,1059.3 2051.9,1070.1 2053.1,1058.3 2054.3,1058.6 2055.7,1072.8 2057.2,1072.7 2058.6,1077.1 2060.0,1047.1 2061.4,1048.4 2062.9,1099.7 2064.3,1047.1 2064.3,1111.4 2065.7,1053.6 2067.2,1095.1 2068.6,1094.3 2070.0,1085.2 2071.4,1094.5 2072.9,1081.7 2074.3,1091.9 2075.7,1078.6 2076.9,1080.4 2078.1,1084.7 2079.3,1078.7 2080.5,1089.6 2081.7,1079.8 2082.9,1078.6 2084.3,1099.1 2085.8,1100.6 2087.2,1086.5 2088.6,1100.0 2090.0,1111.7 2091.4,1089.8 2092.9,1114.5 2094.3,1108.6 2095.7,1105.4 2097.2,1121.7 2098.6,1120.0 2100.0,1109.1 2101.4,1120.1 2102.9,1097.7 2104.3,1111.4 2105.7,1108.6 2107.2,1089.5 2108.6,1091.4 2109.8,1108.2 2111.0,1088.5 2112.2,1085.6 2113.5,1090.6 2114.7,1078.5 2115.9,1089.9 2117.1,1088.6 2118.6,1080.8 2120.0,1078.6 2121.4,1092.9 2122.8,1080.8 2124.3,1097.5 2125.7,1097.1 2127.1,1082.1 2128.6,1093.6 2130.0,1082.1 2131.4,1078.6 2132.6,1095.4 2133.8,1076.4 2135.0,1096.2 2136.2,1084.0 2137.4,1097.9 2138.6,1100.0 2140.0,1080.2 2141.5,1092.6 2142.9,1088.6 2144.3,1073.9 2145.8,1095.9 2147.2,1074.9 2148.6,1068.6 2149.9,1066.7 2151.2,1078.0 2152.4,1065.9 2153.7,1070.4 2155.0,1067.3 2156.3,1069.6 2157.6,1063.0 2158.8,1069.7 2160.1,1060.2 2161.4,1068.6 2162.4,1073.9 2163.4,1058.6 2164.6,1061.7 2165.9,1085.6 2167.1,1071.4 2168.5,1062.5 2170.0,1085.3 2171.4,1088.6 2172.7,1078.1 2174.1,1087.1 2175.4,1082.7 2176.7,1089.5 2178.1,1086.6 2179.4,1089.8 2180.7,1087.3 2182.1,1086.6 2183.4,1091.0 2184.7,1086.0 2186.1,1086.2 2187.4,1087.7 2188.7,1085.9 2190.1,1089.1 2191.4,1088.6 2192.9,1070.9 2194.3,1068.6 2195.7,1082.1 2197.1,1065.8 2198.6,1076.2 2200.0,1063.6 2201.4,1068.6 2202.4,1076.2 2203.4,1058.6 2204.6,1065.3 2205.9,1073.3 2207.1,1077.1 2208.3,1062.9 2209.5,1077.3 2210.7,1072.2 2211.9,1071.8 2213.1,1077.9 2214.3,1077.1 2215.7,1069.7 2217.2,1077.9 2218.6,1065.3 2220.0,1068.6 2221.4,1075.5 2222.8,1057.3 2224.3,1065.8 2225.7,1047.9 2227.1,1065.7 2228.6,1047.1 2229.9,1067.1 2231.2,1044.8 2232.5,1049.6 2233.8,1048.2 2235.1,1049.5 2236.4,1046.1 2237.7,1049.2 2239.0,1046.7 2240.3,1056.3 2241.6,1044.7 2242.9,1047.1 2244.3,1074.4 2245.7,1060.0 2247.1,1080.5 2248.6,1050.2 2250.0,1058.1 2251.4,1080.0 2252.8,1061.6 2254.3,1074.7 2255.7,1060.0 2257.1,1060.5 2258.6,1067.9 2260.0,1058.6" fill="none" stroke="#0068e0" stroke-width="4.8" stroke-linejoin="miter" stroke-miterlimit="2" stroke-linecap="butt"/>
</g>
<g stroke="#111111" fill="none">
<rect x="330.2" y="68.5" width="2122.8" height="1714.2" stroke-width="8"/>
<line x1="330.2" y1="526" x2="362" y2="526" stroke-width="8.4"/>
<line x1="330.2" y1="983.3" x2="362" y2="983.3" stroke-width="8.4"/>
<line x1="330.2" y1="1441" x2="362" y2="1441" stroke-width="8.4"/>
<line x1="717" y1="1750" x2="717" y2="1782.7" stroke-width="8"/>
<line x1="1101.6" y1="1750" x2="1101.6" y2="1782.7" stroke-width="8"/>
<line x1="1487.5" y1="1750" x2="1487.5" y2="1782.7" stroke-width="8"/>
<line x1="1874" y1="1750" x2="1874" y2="1782.7" stroke-width="8"/>
<line x1="2262" y1="1750" x2="2262" y2="1782.7" stroke-width="8"/>
</g>
<g font-family="'Liberation Serif', 'Times New Roman', serif" fill="#262626">
<text x="184 223 257" y="99.5" font-size="79">0.8</text>
<text x="184 223 257" y="556.5" font-size="79">0.6</text>
<text x="184 223 257" y="1012" font-size="79">0.4</text>
<text x="184 223 257" y="1470.5" font-size="79">0.2</text>
<text transform="translate(646.0,1877) scale(0.95,1)" x="0" y="0" font-size="93">200</text>
<text transform="translate(1033.7,1889.5) scale(0.95,1)" x="0" y="0" font-size="93">400</text>
<text transform="translate(1424.2,1883.5) scale(0.95,1)" x="0" y="0" font-size="93">600</text>
<text transform="translate(1810.0,1881.5) scale(0.95,1)" x="0" y="0" font-size="93">800</text>
<text transform="translate(2176.3,1881.5) scale(0.95,1)" x="0" y="0" font-size="93">1000</text>
</g>
<g font-family="'Liberation Serif', 'Times New Roman', serif" fill="#0a0a0a">
<text x="1192" y="2030" font-size="105">Cycles</text>
<text transform="translate(112,966) rotate(-90)" x="0" y="0" font-size="104">COF</text>
</g>
<g font-family="'Liberation Serif', 'Times New Roman', serif" fill="#0a0a0a" font-size="90">
<text x="1729.5" y="164.5">Cu</text>
<text x="1729.5" y="274">B-MWCNTs/Cu</text>
<text x="1729.5" y="384">Cu@MWCNTs/Cu</text>
<text x="1729.5" y="493.5">Ni@MWCNTs/Cu</text>
</g>
<rect x="1503.7" y="130.2" width="182.9" height="3.7" fill="#00c190"/>
<rect x="1503.7" y="133.9" width="182.9" height="4.4" fill="#60d4ae"/>
<rect x="1503.7" y="242.0" width="182.9" height="5.0" fill="#0068e0"/>
<rect x="1503.7" y="350.9" width="182.9" height="4.1" fill="#ff6060"/>
<rect x="1503.7" y="355.0" width="182.9" height="3.9" fill="#ffc8c8"/>
<rect x="1503.7" y="459.0" width="182.9" height="3.9" fill="#7d7d7d"/>
<rect x="1503.7" y="462.9" width="182.9" height="4.0" fill="#a3a3a3"/>
</svg>
</body>
</html>
